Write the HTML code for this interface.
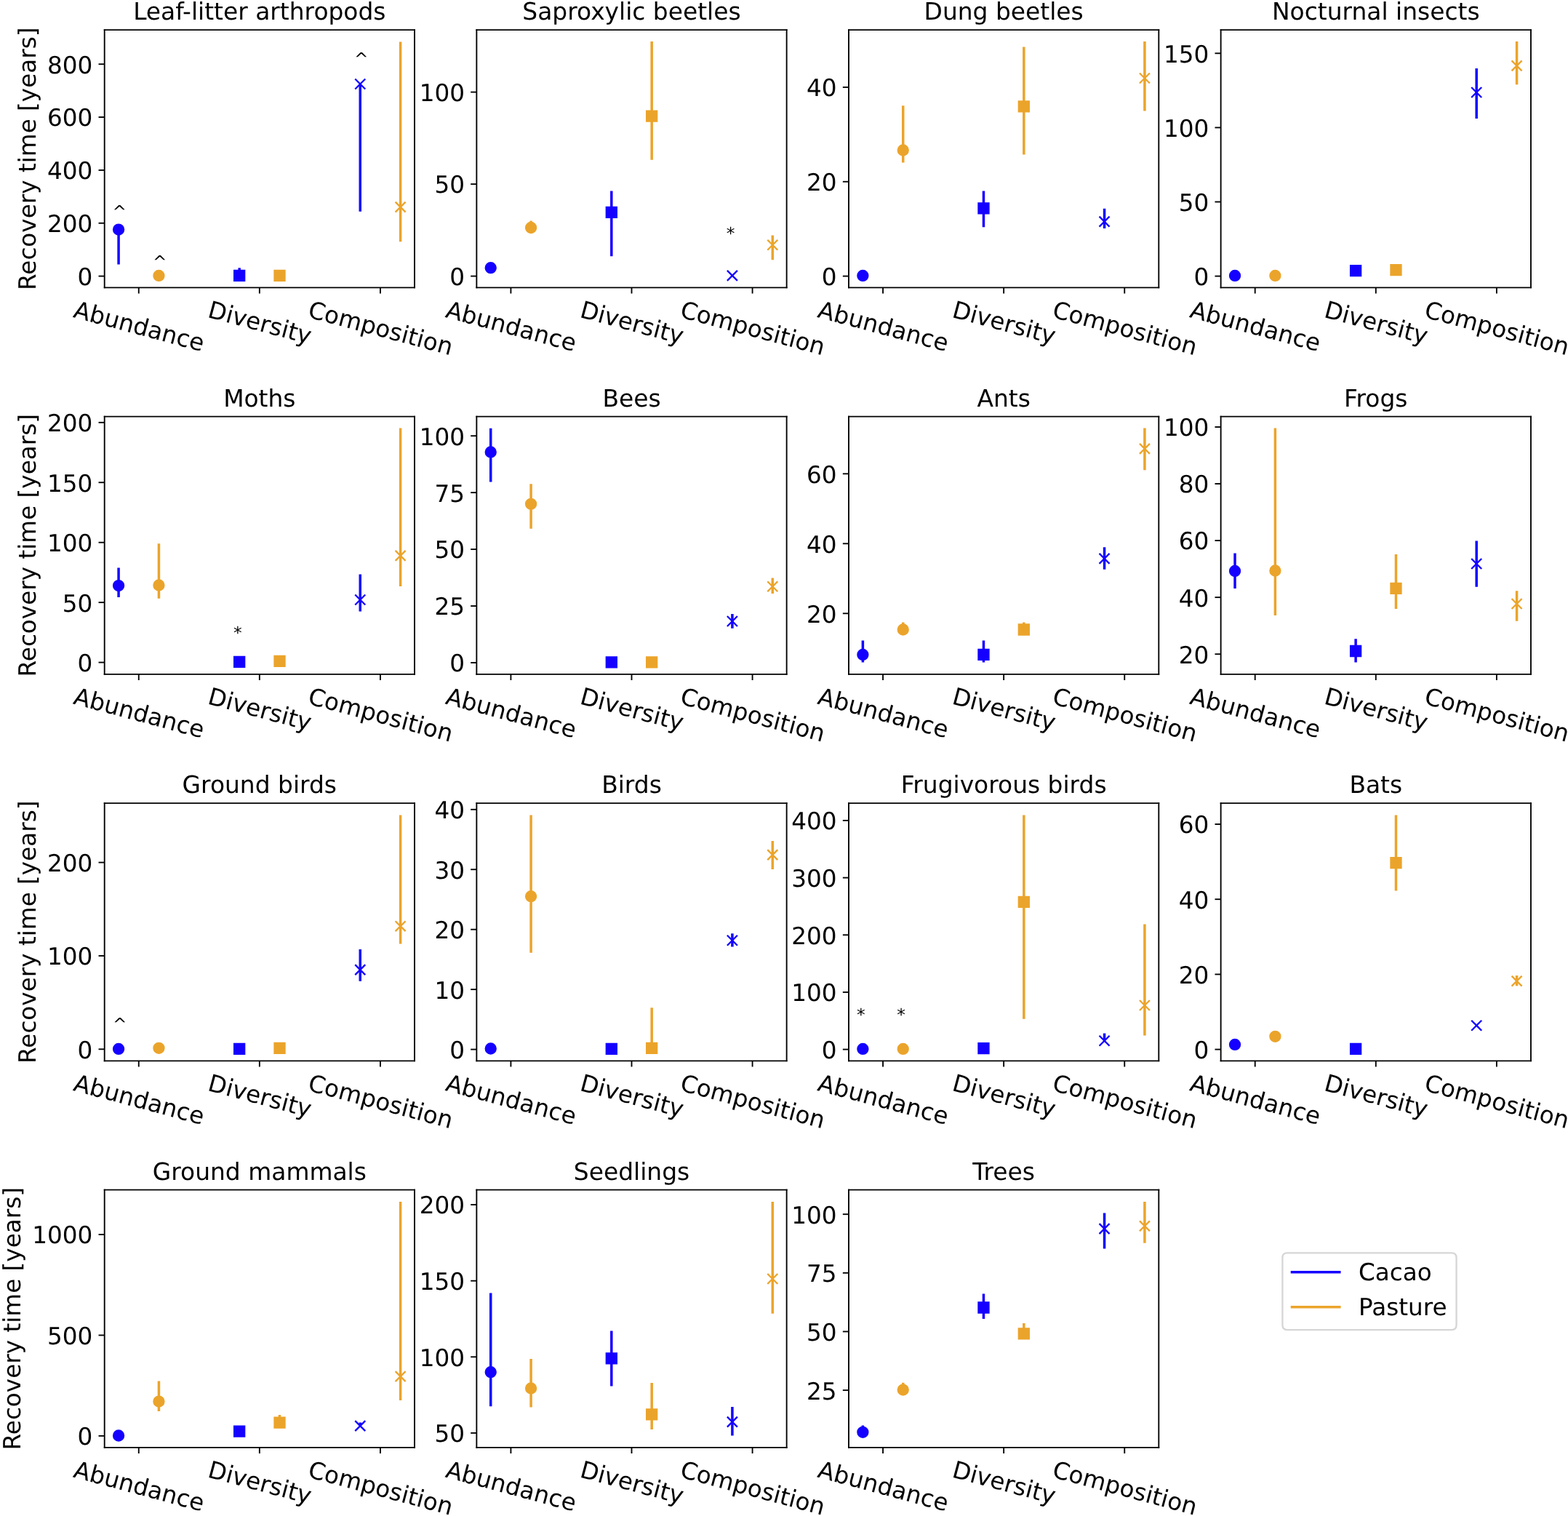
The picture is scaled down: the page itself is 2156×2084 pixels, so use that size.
<!DOCTYPE html>
<html><head><meta charset="utf-8"><style>html,body{margin:0;padding:0;background:#fff;overflow:hidden}svg{display:block;text-rendering:geometricPrecision}</style></head><body>
<svg width="2156" height="2084" viewBox="0 0 924 893.142857">
 <defs>
  <style type="text/css">*{stroke-linejoin: round; stroke-linecap: butt}</style>
 </defs>
 <g id="figure_1">
  <g id="patch_1">
   <path d="M 0 893.142857 L 924 893.142857 L 924 0 L 0 0 z
" style="fill: #ffffff"/>
  </g>
  <g id="axes_1">
   <g id="patch_2">
    <path d="M 61.585714 169.427143 L 244.285714 169.427143 L 244.285714 17.605714 L 61.585714 17.605714 z
" style="fill: #ffffff"/>
   </g>
   <g id="matplotlib.axis_1">
    <g id="xtick_1">
     <g id="line2d_1">
      <g>
       <path d="M 0 0 L 0 3.5 " transform="translate(81.753894 169.427143)" style="stroke: #000000; stroke-width: 0.8; stroke: #000000; stroke-width: 0.8"/>
      </g>
     </g>
     <g id="text_1">
      <text style="font-size: 14px; font-family: 'DejaVu Sans', 'Liberation Sans', sans-serif" transform="translate(42.666834 186.702481) rotate(-345)">Abundance</text>
     </g>
    </g>
    <g id="xtick_2">
     <g id="line2d_2">
      <g>
       <path d="M 0 0 L 0 3.5 " transform="translate(152.935714 169.427143)" style="stroke: #000000; stroke-width: 0.8; stroke: #000000; stroke-width: 0.8"/>
      </g>
     </g>
     <g id="text_2">
      <text style="font-size: 14px; font-family: 'DejaVu Sans', 'Liberation Sans', sans-serif" transform="translate(121.855726 186.702481) rotate(-345)">Diversity</text>
     </g>
    </g>
    <g id="xtick_3">
     <g id="line2d_3">
      <g>
       <path d="M 0 0 L 0 3.5 " transform="translate(224.117534 169.427143)" style="stroke: #000000; stroke-width: 0.8; stroke: #000000; stroke-width: 0.8"/>
      </g>
     </g>
     <g id="text_3">
      <text style="font-size: 14px; font-family: 'DejaVu Sans', 'Liberation Sans', sans-serif" transform="translate(180.89118 186.702481) rotate(-345)">Composition</text>
     </g>
    </g>
   </g>
   <g id="matplotlib.axis_2">
    <g id="ytick_1">
     <g id="line2d_4">
      <g>
       <path d="M 0 0 L -3.5 0 " transform="translate(61.585714 162.685714)" style="stroke: #000000; stroke-width: 0.8; stroke: #000000; stroke-width: 0.8"/>
      </g>
     </g>
     <g id="text_4">
      <text style="font-size: 14px; font-family: 'DejaVu Sans', 'Liberation Sans', sans-serif; text-anchor: end" x="54.585714" y="168.004621" transform="rotate(-0 54.585714 168.004621)">0</text>
     </g>
    </g>
    <g id="ytick_2">
     <g id="line2d_5">
      <g>
       <path d="M 0 0 L -3.5 0 " transform="translate(61.585714 131.464286)" style="stroke: #000000; stroke-width: 0.8; stroke: #000000; stroke-width: 0.8"/>
      </g>
     </g>
     <g id="text_5">
      <text style="font-size: 14px; font-family: 'DejaVu Sans', 'Liberation Sans', sans-serif; text-anchor: end" x="54.585714" y="136.783192" transform="rotate(-0 54.585714 136.783192)">200</text>
     </g>
    </g>
    <g id="ytick_3">
     <g id="line2d_6">
      <g>
       <path d="M 0 0 L -3.5 0 " transform="translate(61.585714 100.242857)" style="stroke: #000000; stroke-width: 0.8; stroke: #000000; stroke-width: 0.8"/>
      </g>
     </g>
     <g id="text_6">
      <text style="font-size: 14px; font-family: 'DejaVu Sans', 'Liberation Sans', sans-serif; text-anchor: end" x="54.585714" y="105.561763" transform="rotate(-0 54.585714 105.561763)">400</text>
     </g>
    </g>
    <g id="ytick_4">
     <g id="line2d_7">
      <g>
       <path d="M 0 0 L -3.5 0 " transform="translate(61.585714 69.021429)" style="stroke: #000000; stroke-width: 0.8; stroke: #000000; stroke-width: 0.8"/>
      </g>
     </g>
     <g id="text_7">
      <text style="font-size: 14px; font-family: 'DejaVu Sans', 'Liberation Sans', sans-serif; text-anchor: end" x="54.585714" y="74.340335" transform="rotate(-0 54.585714 74.340335)">600</text>
     </g>
    </g>
    <g id="ytick_5">
     <g id="line2d_8">
      <g>
       <path d="M 0 0 L -3.5 0 " transform="translate(61.585714 37.8)" style="stroke: #000000; stroke-width: 0.8; stroke: #000000; stroke-width: 0.8"/>
      </g>
     </g>
     <g id="text_8">
      <text style="font-size: 14px; font-family: 'DejaVu Sans', 'Liberation Sans', sans-serif; text-anchor: end" x="54.585714" y="43.118906" transform="rotate(-0 54.585714 43.118906)">800</text>
     </g>
    </g>
    <g id="text_9">
     <text style="font-size: 14px; font-family: 'DejaVu Sans', 'Liberation Sans', sans-serif; text-anchor: middle" x="20.951652" y="93.516429" transform="rotate(-90 20.951652 93.516429)">Recovery time [years]</text>
    </g>
   </g>
   <g id="LineCollection_1">
    <path d="M 69.890258 155.742857 L 69.890258 135.257143 " clip-path="url(#pb2ecd4a80b)" style="fill: none; stroke: #1500ff; stroke-width: 1.5"/>
   </g>
   <g id="LineCollection_2">
    <path d="M 93.617531 162.385714 L 93.617531 162.385714 " clip-path="url(#pb2ecd4a80b)" style="fill: none; stroke: #eba42b; stroke-width: 1.5"/>
   </g>
   <g id="LineCollection_3">
    <path d="M 141.072078 162.385714 L 141.072078 157.8 " clip-path="url(#pb2ecd4a80b)" style="fill: none; stroke: #1500ff; stroke-width: 1.5"/>
   </g>
   <g id="LineCollection_4">
    <path d="M 164.799351 162.385714 L 164.799351 162.385714 " clip-path="url(#pb2ecd4a80b)" style="fill: none; stroke: #eba42b; stroke-width: 1.5"/>
   </g>
   <g id="LineCollection_5">
    <path d="M 212.253898 124.628571 L 212.253898 49.5 " clip-path="url(#pb2ecd4a80b)" style="fill: none; stroke: #1500ff; stroke-width: 1.5"/>
   </g>
   <g id="LineCollection_6">
    <path d="M 235.981171 142.414286 L 235.981171 24.642857 " clip-path="url(#pb2ecd4a80b)" style="fill: none; stroke: #eba42b; stroke-width: 1.5"/>
   </g>
   <g id="line2d_9">
    <g clip-path="url(#pb2ecd4a80b)">
     <path d="M 0 3 C 0.795609 3 1.55874 2.683901 2.12132 2.12132 C 2.683901 1.55874 3 0.795609 3 0 C 3 -0.795609 2.683901 -1.55874 2.12132 -2.12132 C 1.55874 -2.683901 0.795609 -3 0 -3 C -0.795609 -3 -1.55874 -2.683901 -2.12132 -2.12132 C -2.683901 -1.55874 -3 -0.795609 -3 0 C -3 0.795609 -2.683901 1.55874 -2.12132 2.12132 C -1.55874 2.683901 -0.795609 3 0 3 z
" transform="translate(69.890258 135.257143)" style="fill: #1500ff; stroke: #1500ff; stroke: #1500ff"/>
    </g>
   </g>
   <g id="line2d_10">
    <g clip-path="url(#pb2ecd4a80b)">
     <path d="M 0 3 C 0.795609 3 1.55874 2.683901 2.12132 2.12132 C 2.683901 1.55874 3 0.795609 3 0 C 3 -0.795609 2.683901 -1.55874 2.12132 -2.12132 C 1.55874 -2.683901 0.795609 -3 0 -3 C -0.795609 -3 -1.55874 -2.683901 -2.12132 -2.12132 C -2.683901 -1.55874 -3 -0.795609 -3 0 C -3 0.795609 -2.683901 1.55874 -2.12132 2.12132 C -1.55874 2.683901 -0.795609 3 0 3 z
" transform="translate(93.617531 162.385714)" style="fill: #eba42b; stroke: #eba42b; stroke: #eba42b"/>
    </g>
   </g>
   <g id="line2d_11">
    <g clip-path="url(#pb2ecd4a80b)">
     <path d="M -3 3 L 3 3 L 3 -3 L -3 -3 z
" transform="translate(141.072078 162.385714)" style="fill: #1500ff; stroke: #1500ff; stroke-linejoin: miter; stroke: #1500ff; stroke-linejoin: miter"/>
    </g>
   </g>
   <g id="line2d_12">
    <g clip-path="url(#pb2ecd4a80b)">
     <path d="M -3 3 L 3 3 L 3 -3 L -3 -3 z
" transform="translate(164.799351 162.385714)" style="fill: #eba42b; stroke: #eba42b; stroke-linejoin: miter; stroke: #eba42b; stroke-linejoin: miter"/>
    </g>
   </g>
   <g id="line2d_13">
    <g clip-path="url(#pb2ecd4a80b)">
     <path d="M -3 3 L 3 -3 M -3 -3 L 3 3 " transform="translate(212.253898 49.5)" style="fill: #1500ff; stroke: #1500ff; stroke: #1500ff"/>
    </g>
   </g>
   <g id="line2d_14">
    <g clip-path="url(#pb2ecd4a80b)">
     <path d="M -3 3 L 3 -3 M -3 -3 L 3 3 " transform="translate(235.981171 121.971429)" style="fill: #eba42b; stroke: #eba42b; stroke: #eba42b"/>
    </g>
   </g>
   <g id="patch_3">
    <path d="M 61.585714 169.427143 L 61.585714 17.605714 " style="fill: none; stroke: #000000; stroke-width: 0.8; stroke-linejoin: miter; stroke-linecap: square"/>
   </g>
   <g id="patch_4">
    <path d="M 244.285714 169.427143 L 244.285714 17.605714 " style="fill: none; stroke: #000000; stroke-width: 0.8; stroke-linejoin: miter; stroke-linecap: square"/>
   </g>
   <g id="patch_5">
    <path d="M 61.585714 169.427143 L 244.285714 169.427143 " style="fill: none; stroke: #000000; stroke-width: 0.8; stroke-linejoin: miter; stroke-linecap: square"/>
   </g>
   <g id="patch_6">
    <path d="M 61.585714 17.605714 L 244.285714 17.605714 " style="fill: none; stroke: #000000; stroke-width: 0.8; stroke-linejoin: miter; stroke-linecap: square"/>
   </g>
   <g id="text_10">
    <text style="font-size: 14.1px; font-family: 'DejaVu Sans', 'Liberation Sans', sans-serif; text-anchor: middle" x="152.935714" y="11.605714" transform="rotate(-0 152.935714 11.605714)">Leaf-litter arthropods</text>
   </g>
  </g>
  <g id="axes_2">
   <g id="patch_7">
    <path d="M 280.864286 169.427143 L 463.564286 169.427143 L 463.564286 17.605714 L 280.864286 17.605714 z
" style="fill: #ffffff"/>
   </g>
   <g id="matplotlib.axis_3">
    <g id="xtick_4">
     <g id="line2d_15">
      <g>
       <path d="M 0 0 L 0 3.5 " transform="translate(301.032466 169.427143)" style="stroke: #000000; stroke-width: 0.8; stroke: #000000; stroke-width: 0.8"/>
      </g>
     </g>
     <g id="text_11">
      <text style="font-size: 14px; font-family: 'DejaVu Sans', 'Liberation Sans', sans-serif" transform="translate(261.945405 186.702481) rotate(-345)">Abundance</text>
     </g>
    </g>
    <g id="xtick_5">
     <g id="line2d_16">
      <g>
       <path d="M 0 0 L 0 3.5 " transform="translate(372.214286 169.427143)" style="stroke: #000000; stroke-width: 0.8; stroke: #000000; stroke-width: 0.8"/>
      </g>
     </g>
     <g id="text_12">
      <text style="font-size: 14px; font-family: 'DejaVu Sans', 'Liberation Sans', sans-serif" transform="translate(341.134298 186.702481) rotate(-345)">Diversity</text>
     </g>
    </g>
    <g id="xtick_6">
     <g id="line2d_17">
      <g>
       <path d="M 0 0 L 0 3.5 " transform="translate(443.396106 169.427143)" style="stroke: #000000; stroke-width: 0.8; stroke: #000000; stroke-width: 0.8"/>
      </g>
     </g>
     <g id="text_13">
      <text style="font-size: 14px; font-family: 'DejaVu Sans', 'Liberation Sans', sans-serif" transform="translate(400.169751 186.702481) rotate(-345)">Composition</text>
     </g>
    </g>
   </g>
   <g id="matplotlib.axis_4">
    <g id="ytick_6">
     <g id="line2d_18">
      <g>
       <path d="M 0 0 L -3.5 0 " transform="translate(280.864286 162.685714)" style="stroke: #000000; stroke-width: 0.8; stroke: #000000; stroke-width: 0.8"/>
      </g>
     </g>
     <g id="text_14">
      <text style="font-size: 14px; font-family: 'DejaVu Sans', 'Liberation Sans', sans-serif; text-anchor: end" x="273.864286" y="168.004621" transform="rotate(-0 273.864286 168.004621)">0</text>
     </g>
    </g>
    <g id="ytick_7">
     <g id="line2d_19">
      <g>
       <path d="M 0 0 L -3.5 0 " transform="translate(280.864286 108.471429)" style="stroke: #000000; stroke-width: 0.8; stroke: #000000; stroke-width: 0.8"/>
      </g>
     </g>
     <g id="text_15">
      <text style="font-size: 14px; font-family: 'DejaVu Sans', 'Liberation Sans', sans-serif; text-anchor: end" x="273.864286" y="113.790335" transform="rotate(-0 273.864286 113.790335)">50</text>
     </g>
    </g>
    <g id="ytick_8">
     <g id="line2d_20">
      <g>
       <path d="M 0 0 L -3.5 0 " transform="translate(280.864286 54.257143)" style="stroke: #000000; stroke-width: 0.8; stroke: #000000; stroke-width: 0.8"/>
      </g>
     </g>
     <g id="text_16">
      <text style="font-size: 14px; font-family: 'DejaVu Sans', 'Liberation Sans', sans-serif; text-anchor: end" x="273.864286" y="59.576049" transform="rotate(-0 273.864286 59.576049)">100</text>
     </g>
    </g>
   </g>
   <g id="LineCollection_7">
    <path d="M 289.168829 157.8 L 289.168829 157.8 " clip-path="url(#p478a7007c0)" style="fill: none; stroke: #1500ff; stroke-width: 1.5"/>
   </g>
   <g id="LineCollection_8">
    <path d="M 312.896102 134.142857 L 312.896102 130.028571 " clip-path="url(#p478a7007c0)" style="fill: none; stroke: #eba42b; stroke-width: 1.5"/>
   </g>
   <g id="LineCollection_9">
    <path d="M 360.350649 150.985714 L 360.350649 112.457143 " clip-path="url(#p478a7007c0)" style="fill: none; stroke: #1500ff; stroke-width: 1.5"/>
   </g>
   <g id="LineCollection_10">
    <path d="M 384.077922 94.2 L 384.077922 24.471429 " clip-path="url(#p478a7007c0)" style="fill: none; stroke: #eba42b; stroke-width: 1.5"/>
   </g>
   <g id="LineCollection_11">
    <path d="M 431.532469 162.385714 L 431.532469 162.385714 " clip-path="url(#p478a7007c0)" style="fill: none; stroke: #1500ff; stroke-width: 1.5"/>
   </g>
   <g id="LineCollection_12">
    <path d="M 455.259742 153.085714 L 455.259742 138.6 " clip-path="url(#p478a7007c0)" style="fill: none; stroke: #eba42b; stroke-width: 1.5"/>
   </g>
   <g id="line2d_21">
    <g clip-path="url(#p478a7007c0)">
     <path d="M 0 3 C 0.795609 3 1.55874 2.683901 2.12132 2.12132 C 2.683901 1.55874 3 0.795609 3 0 C 3 -0.795609 2.683901 -1.55874 2.12132 -2.12132 C 1.55874 -2.683901 0.795609 -3 0 -3 C -0.795609 -3 -1.55874 -2.683901 -2.12132 -2.12132 C -2.683901 -1.55874 -3 -0.795609 -3 0 C -3 0.795609 -2.683901 1.55874 -2.12132 2.12132 C -1.55874 2.683901 -0.795609 3 0 3 z
" transform="translate(289.168829 157.8)" style="fill: #1500ff; stroke: #1500ff; stroke: #1500ff"/>
    </g>
   </g>
   <g id="line2d_22">
    <g clip-path="url(#p478a7007c0)">
     <path d="M 0 3 C 0.795609 3 1.55874 2.683901 2.12132 2.12132 C 2.683901 1.55874 3 0.795609 3 0 C 3 -0.795609 2.683901 -1.55874 2.12132 -2.12132 C 1.55874 -2.683901 0.795609 -3 0 -3 C -0.795609 -3 -1.55874 -2.683901 -2.12132 -2.12132 C -2.683901 -1.55874 -3 -0.795609 -3 0 C -3 0.795609 -2.683901 1.55874 -2.12132 2.12132 C -1.55874 2.683901 -0.795609 3 0 3 z
" transform="translate(312.896102 134.142857)" style="fill: #eba42b; stroke: #eba42b; stroke: #eba42b"/>
    </g>
   </g>
   <g id="line2d_23">
    <g clip-path="url(#p478a7007c0)">
     <path d="M -3 3 L 3 3 L 3 -3 L -3 -3 z
" transform="translate(360.350649 125.1)" style="fill: #1500ff; stroke: #1500ff; stroke-linejoin: miter; stroke: #1500ff; stroke-linejoin: miter"/>
    </g>
   </g>
   <g id="line2d_24">
    <g clip-path="url(#p478a7007c0)">
     <path d="M -3 3 L 3 3 L 3 -3 L -3 -3 z
" transform="translate(384.077922 68.4)" style="fill: #eba42b; stroke: #eba42b; stroke-linejoin: miter; stroke: #eba42b; stroke-linejoin: miter"/>
    </g>
   </g>
   <g id="line2d_25">
    <g clip-path="url(#p478a7007c0)">
     <path d="M -3 3 L 3 -3 M -3 -3 L 3 3 " transform="translate(431.532469 162.385714)" style="fill: #1500ff; stroke: #1500ff; stroke: #1500ff"/>
    </g>
   </g>
   <g id="line2d_26">
    <g clip-path="url(#p478a7007c0)">
     <path d="M -3 3 L 3 -3 M -3 -3 L 3 3 " transform="translate(455.259742 144.3)" style="fill: #eba42b; stroke: #eba42b; stroke: #eba42b"/>
    </g>
   </g>
   <g id="patch_8">
    <path d="M 280.864286 169.427143 L 280.864286 17.605714 " style="fill: none; stroke: #000000; stroke-width: 0.8; stroke-linejoin: miter; stroke-linecap: square"/>
   </g>
   <g id="patch_9">
    <path d="M 463.564286 169.427143 L 463.564286 17.605714 " style="fill: none; stroke: #000000; stroke-width: 0.8; stroke-linejoin: miter; stroke-linecap: square"/>
   </g>
   <g id="patch_10">
    <path d="M 280.864286 169.427143 L 463.564286 169.427143 " style="fill: none; stroke: #000000; stroke-width: 0.8; stroke-linejoin: miter; stroke-linecap: square"/>
   </g>
   <g id="patch_11">
    <path d="M 280.864286 17.605714 L 463.564286 17.605714 " style="fill: none; stroke: #000000; stroke-width: 0.8; stroke-linejoin: miter; stroke-linecap: square"/>
   </g>
   <g id="text_17">
    <text style="font-size: 14.1px; font-family: 'DejaVu Sans', 'Liberation Sans', sans-serif; text-anchor: middle" x="372.214286" y="11.605714" transform="rotate(-0 372.214286 11.605714)">Saproxylic beetles</text>
   </g>
  </g>
  <g id="axes_3">
   <g id="patch_12">
    <path d="M 500.142857 169.427143 L 682.842857 169.427143 L 682.842857 17.605714 L 500.142857 17.605714 z
" style="fill: #ffffff"/>
   </g>
   <g id="matplotlib.axis_5">
    <g id="xtick_7">
     <g id="line2d_27">
      <g>
       <path d="M 0 0 L 0 3.5 " transform="translate(520.311037 169.427143)" style="stroke: #000000; stroke-width: 0.8; stroke: #000000; stroke-width: 0.8"/>
      </g>
     </g>
     <g id="text_18">
      <text style="font-size: 14px; font-family: 'DejaVu Sans', 'Liberation Sans', sans-serif" transform="translate(481.223977 186.702481) rotate(-345)">Abundance</text>
     </g>
    </g>
    <g id="xtick_8">
     <g id="line2d_28">
      <g>
       <path d="M 0 0 L 0 3.5 " transform="translate(591.492857 169.427143)" style="stroke: #000000; stroke-width: 0.8; stroke: #000000; stroke-width: 0.8"/>
      </g>
     </g>
     <g id="text_19">
      <text style="font-size: 14px; font-family: 'DejaVu Sans', 'Liberation Sans', sans-serif" transform="translate(560.412869 186.702481) rotate(-345)">Diversity</text>
     </g>
    </g>
    <g id="xtick_9">
     <g id="line2d_29">
      <g>
       <path d="M 0 0 L 0 3.5 " transform="translate(662.674677 169.427143)" style="stroke: #000000; stroke-width: 0.8; stroke: #000000; stroke-width: 0.8"/>
      </g>
     </g>
     <g id="text_20">
      <text style="font-size: 14px; font-family: 'DejaVu Sans', 'Liberation Sans', sans-serif" transform="translate(619.448323 186.702481) rotate(-345)">Composition</text>
     </g>
    </g>
   </g>
   <g id="matplotlib.axis_6">
    <g id="ytick_9">
     <g id="line2d_30">
      <g>
       <path d="M 0 0 L -3.5 0 " transform="translate(500.142857 162.685714)" style="stroke: #000000; stroke-width: 0.8; stroke: #000000; stroke-width: 0.8"/>
      </g>
     </g>
     <g id="text_21">
      <text style="font-size: 14px; font-family: 'DejaVu Sans', 'Liberation Sans', sans-serif; text-anchor: end" x="493.142857" y="168.004621" transform="rotate(-0 493.142857 168.004621)">0</text>
     </g>
    </g>
    <g id="ytick_10">
     <g id="line2d_31">
      <g>
       <path d="M 0 0 L -3.5 0 " transform="translate(500.142857 107.035714)" style="stroke: #000000; stroke-width: 0.8; stroke: #000000; stroke-width: 0.8"/>
      </g>
     </g>
     <g id="text_22">
      <text style="font-size: 14px; font-family: 'DejaVu Sans', 'Liberation Sans', sans-serif; text-anchor: end" x="493.142857" y="112.354621" transform="rotate(-0 493.142857 112.354621)">20</text>
     </g>
    </g>
    <g id="ytick_11">
     <g id="line2d_32">
      <g>
       <path d="M 0 0 L -3.5 0 " transform="translate(500.142857 51.385714)" style="stroke: #000000; stroke-width: 0.8; stroke: #000000; stroke-width: 0.8"/>
      </g>
     </g>
     <g id="text_23">
      <text style="font-size: 14px; font-family: 'DejaVu Sans', 'Liberation Sans', sans-serif; text-anchor: end" x="493.142857" y="56.704621" transform="rotate(-0 493.142857 56.704621)">40</text>
     </g>
    </g>
   </g>
   <g id="LineCollection_13">
    <path d="M 508.4474 162.385714 L 508.4474 162.385714 " clip-path="url(#p5261896956)" style="fill: none; stroke: #1500ff; stroke-width: 1.5"/>
   </g>
   <g id="LineCollection_14">
    <path d="M 532.174674 95.785714 L 532.174674 62.228571 " clip-path="url(#p5261896956)" style="fill: none; stroke: #eba42b; stroke-width: 1.5"/>
   </g>
   <g id="LineCollection_15">
    <path d="M 579.62922 133.842857 L 579.62922 112.457143 " clip-path="url(#p5261896956)" style="fill: none; stroke: #1500ff; stroke-width: 1.5"/>
   </g>
   <g id="LineCollection_16">
    <path d="M 603.356494 91.028571 L 603.356494 27.6 " clip-path="url(#p5261896956)" style="fill: none; stroke: #eba42b; stroke-width: 1.5"/>
   </g>
   <g id="LineCollection_17">
    <path d="M 650.811041 134.528571 L 650.811041 122.914286 " clip-path="url(#p5261896956)" style="fill: none; stroke: #1500ff; stroke-width: 1.5"/>
   </g>
   <g id="LineCollection_18">
    <path d="M 674.538314 65.357143 L 674.538314 24.471429 " clip-path="url(#p5261896956)" style="fill: none; stroke: #eba42b; stroke-width: 1.5"/>
   </g>
   <g id="line2d_33">
    <g clip-path="url(#p5261896956)">
     <path d="M 0 3 C 0.795609 3 1.55874 2.683901 2.12132 2.12132 C 2.683901 1.55874 3 0.795609 3 0 C 3 -0.795609 2.683901 -1.55874 2.12132 -2.12132 C 1.55874 -2.683901 0.795609 -3 0 -3 C -0.795609 -3 -1.55874 -2.683901 -2.12132 -2.12132 C -2.683901 -1.55874 -3 -0.795609 -3 0 C -3 0.795609 -2.683901 1.55874 -2.12132 2.12132 C -1.55874 2.683901 -0.795609 3 0 3 z
" transform="translate(508.4474 162.385714)" style="fill: #1500ff; stroke: #1500ff; stroke: #1500ff"/>
    </g>
   </g>
   <g id="line2d_34">
    <g clip-path="url(#p5261896956)">
     <path d="M 0 3 C 0.795609 3 1.55874 2.683901 2.12132 2.12132 C 2.683901 1.55874 3 0.795609 3 0 C 3 -0.795609 2.683901 -1.55874 2.12132 -2.12132 C 1.55874 -2.683901 0.795609 -3 0 -3 C -0.795609 -3 -1.55874 -2.683901 -2.12132 -2.12132 C -2.683901 -1.55874 -3 -0.795609 -3 0 C -3 0.795609 -2.683901 1.55874 -2.12132 2.12132 C -1.55874 2.683901 -0.795609 3 0 3 z
" transform="translate(532.174674 88.5)" style="fill: #eba42b; stroke: #eba42b; stroke: #eba42b"/>
    </g>
   </g>
   <g id="line2d_35">
    <g clip-path="url(#p5261896956)">
     <path d="M -3 3 L 3 3 L 3 -3 L -3 -3 z
" transform="translate(579.62922 122.742857)" style="fill: #1500ff; stroke: #1500ff; stroke-linejoin: miter; stroke: #1500ff; stroke-linejoin: miter"/>
    </g>
   </g>
   <g id="line2d_36">
    <g clip-path="url(#p5261896956)">
     <path d="M -3 3 L 3 3 L 3 -3 L -3 -3 z
" transform="translate(603.356494 62.7)" style="fill: #eba42b; stroke: #eba42b; stroke-linejoin: miter; stroke: #eba42b; stroke-linejoin: miter"/>
    </g>
   </g>
   <g id="line2d_37">
    <g clip-path="url(#p5261896956)">
     <path d="M -3 3 L 3 -3 M -3 -3 L 3 3 " transform="translate(650.811041 130.542857)" style="fill: #1500ff; stroke: #1500ff; stroke: #1500ff"/>
    </g>
   </g>
   <g id="line2d_38">
    <g clip-path="url(#p5261896956)">
     <path d="M -3 3 L 3 -3 M -3 -3 L 3 3 " transform="translate(674.538314 46.071429)" style="fill: #eba42b; stroke: #eba42b; stroke: #eba42b"/>
    </g>
   </g>
   <g id="patch_13">
    <path d="M 500.142857 169.427143 L 500.142857 17.605714 " style="fill: none; stroke: #000000; stroke-width: 0.8; stroke-linejoin: miter; stroke-linecap: square"/>
   </g>
   <g id="patch_14">
    <path d="M 682.842857 169.427143 L 682.842857 17.605714 " style="fill: none; stroke: #000000; stroke-width: 0.8; stroke-linejoin: miter; stroke-linecap: square"/>
   </g>
   <g id="patch_15">
    <path d="M 500.142857 169.427143 L 682.842857 169.427143 " style="fill: none; stroke: #000000; stroke-width: 0.8; stroke-linejoin: miter; stroke-linecap: square"/>
   </g>
   <g id="patch_16">
    <path d="M 500.142857 17.605714 L 682.842857 17.605714 " style="fill: none; stroke: #000000; stroke-width: 0.8; stroke-linejoin: miter; stroke-linecap: square"/>
   </g>
   <g id="text_24">
    <text style="font-size: 14.1px; font-family: 'DejaVu Sans', 'Liberation Sans', sans-serif; text-anchor: middle" x="591.492857" y="11.605714" transform="rotate(-0 591.492857 11.605714)">Dung beetles</text>
   </g>
  </g>
  <g id="axes_4">
   <g id="patch_17">
    <path d="M 719.421429 169.427143 L 902.121429 169.427143 L 902.121429 17.605714 L 719.421429 17.605714 z
" style="fill: #ffffff"/>
   </g>
   <g id="matplotlib.axis_7">
    <g id="xtick_10">
     <g id="line2d_39">
      <g>
       <path d="M 0 0 L 0 3.5 " transform="translate(739.589609 169.427143)" style="stroke: #000000; stroke-width: 0.8; stroke: #000000; stroke-width: 0.8"/>
      </g>
     </g>
     <g id="text_25">
      <text style="font-size: 14px; font-family: 'DejaVu Sans', 'Liberation Sans', sans-serif" transform="translate(700.502548 186.702481) rotate(-345)">Abundance</text>
     </g>
    </g>
    <g id="xtick_11">
     <g id="line2d_40">
      <g>
       <path d="M 0 0 L 0 3.5 " transform="translate(810.771429 169.427143)" style="stroke: #000000; stroke-width: 0.8; stroke: #000000; stroke-width: 0.8"/>
      </g>
     </g>
     <g id="text_26">
      <text style="font-size: 14px; font-family: 'DejaVu Sans', 'Liberation Sans', sans-serif" transform="translate(779.691441 186.702481) rotate(-345)">Diversity</text>
     </g>
    </g>
    <g id="xtick_12">
     <g id="line2d_41">
      <g>
       <path d="M 0 0 L 0 3.5 " transform="translate(881.953249 169.427143)" style="stroke: #000000; stroke-width: 0.8; stroke: #000000; stroke-width: 0.8"/>
      </g>
     </g>
     <g id="text_27">
      <text style="font-size: 14px; font-family: 'DejaVu Sans', 'Liberation Sans', sans-serif" transform="translate(838.726894 186.702481) rotate(-345)">Composition</text>
     </g>
    </g>
   </g>
   <g id="matplotlib.axis_8">
    <g id="ytick_12">
     <g id="line2d_42">
      <g>
       <path d="M 0 0 L -3.5 0 " transform="translate(719.421429 162.685714)" style="stroke: #000000; stroke-width: 0.8; stroke: #000000; stroke-width: 0.8"/>
      </g>
     </g>
     <g id="text_28">
      <text style="font-size: 14px; font-family: 'DejaVu Sans', 'Liberation Sans', sans-serif; text-anchor: end" x="712.421429" y="168.004621" transform="rotate(-0 712.421429 168.004621)">0</text>
     </g>
    </g>
    <g id="ytick_13">
     <g id="line2d_43">
      <g>
       <path d="M 0 0 L -3.5 0 " transform="translate(719.421429 118.928571)" style="stroke: #000000; stroke-width: 0.8; stroke: #000000; stroke-width: 0.8"/>
      </g>
     </g>
     <g id="text_29">
      <text style="font-size: 14px; font-family: 'DejaVu Sans', 'Liberation Sans', sans-serif; text-anchor: end" x="712.421429" y="124.247478" transform="rotate(-0 712.421429 124.247478)">50</text>
     </g>
    </g>
    <g id="ytick_14">
     <g id="line2d_44">
      <g>
       <path d="M 0 0 L -3.5 0 " transform="translate(719.421429 75.171429)" style="stroke: #000000; stroke-width: 0.8; stroke: #000000; stroke-width: 0.8"/>
      </g>
     </g>
     <g id="text_30">
      <text style="font-size: 14px; font-family: 'DejaVu Sans', 'Liberation Sans', sans-serif; text-anchor: end" x="712.421429" y="80.490335" transform="rotate(-0 712.421429 80.490335)">100</text>
     </g>
    </g>
    <g id="ytick_15">
     <g id="line2d_45">
      <g>
       <path d="M 0 0 L -3.5 0 " transform="translate(719.421429 31.414286)" style="stroke: #000000; stroke-width: 0.8; stroke: #000000; stroke-width: 0.8"/>
      </g>
     </g>
     <g id="text_31">
      <text style="font-size: 14px; font-family: 'DejaVu Sans', 'Liberation Sans', sans-serif; text-anchor: end" x="712.421429" y="36.733192" transform="rotate(-0 712.421429 36.733192)">150</text>
     </g>
    </g>
   </g>
   <g id="LineCollection_19">
    <path d="M 727.725972 162.385714 L 727.725972 162.385714 " clip-path="url(#pe8e57e15fb)" style="fill: none; stroke: #1500ff; stroke-width: 1.5"/>
   </g>
   <g id="LineCollection_20">
    <path d="M 751.453245 162.385714 L 751.453245 162.385714 " clip-path="url(#pe8e57e15fb)" style="fill: none; stroke: #eba42b; stroke-width: 1.5"/>
   </g>
   <g id="LineCollection_21">
    <path d="M 798.907792 159.514286 L 798.907792 159.514286 " clip-path="url(#pe8e57e15fb)" style="fill: none; stroke: #1500ff; stroke-width: 1.5"/>
   </g>
   <g id="LineCollection_22">
    <path d="M 822.635065 159.042857 L 822.635065 159.042857 " clip-path="url(#pe8e57e15fb)" style="fill: none; stroke: #eba42b; stroke-width: 1.5"/>
   </g>
   <g id="LineCollection_23">
    <path d="M 870.089612 69.857143 L 870.089612 40.328571 " clip-path="url(#pe8e57e15fb)" style="fill: none; stroke: #1500ff; stroke-width: 1.5"/>
   </g>
   <g id="LineCollection_24">
    <path d="M 893.816885 49.842857 L 893.816885 24.471429 " clip-path="url(#pe8e57e15fb)" style="fill: none; stroke: #eba42b; stroke-width: 1.5"/>
   </g>
   <g id="line2d_46">
    <g clip-path="url(#pe8e57e15fb)">
     <path d="M 0 3 C 0.795609 3 1.55874 2.683901 2.12132 2.12132 C 2.683901 1.55874 3 0.795609 3 0 C 3 -0.795609 2.683901 -1.55874 2.12132 -2.12132 C 1.55874 -2.683901 0.795609 -3 0 -3 C -0.795609 -3 -1.55874 -2.683901 -2.12132 -2.12132 C -2.683901 -1.55874 -3 -0.795609 -3 0 C -3 0.795609 -2.683901 1.55874 -2.12132 2.12132 C -1.55874 2.683901 -0.795609 3 0 3 z
" transform="translate(727.725972 162.385714)" style="fill: #1500ff; stroke: #1500ff; stroke: #1500ff"/>
    </g>
   </g>
   <g id="line2d_47">
    <g clip-path="url(#pe8e57e15fb)">
     <path d="M 0 3 C 0.795609 3 1.55874 2.683901 2.12132 2.12132 C 2.683901 1.55874 3 0.795609 3 0 C 3 -0.795609 2.683901 -1.55874 2.12132 -2.12132 C 1.55874 -2.683901 0.795609 -3 0 -3 C -0.795609 -3 -1.55874 -2.683901 -2.12132 -2.12132 C -2.683901 -1.55874 -3 -0.795609 -3 0 C -3 0.795609 -2.683901 1.55874 -2.12132 2.12132 C -1.55874 2.683901 -0.795609 3 0 3 z
" transform="translate(751.453245 162.385714)" style="fill: #eba42b; stroke: #eba42b; stroke: #eba42b"/>
    </g>
   </g>
   <g id="line2d_48">
    <g clip-path="url(#pe8e57e15fb)">
     <path d="M -3 3 L 3 3 L 3 -3 L -3 -3 z
" transform="translate(798.907792 159.514286)" style="fill: #1500ff; stroke: #1500ff; stroke-linejoin: miter; stroke: #1500ff; stroke-linejoin: miter"/>
    </g>
   </g>
   <g id="line2d_49">
    <g clip-path="url(#pe8e57e15fb)">
     <path d="M -3 3 L 3 3 L 3 -3 L -3 -3 z
" transform="translate(822.635065 159.042857)" style="fill: #eba42b; stroke: #eba42b; stroke-linejoin: miter; stroke: #eba42b; stroke-linejoin: miter"/>
    </g>
   </g>
   <g id="line2d_50">
    <g clip-path="url(#pe8e57e15fb)">
     <path d="M -3 3 L 3 -3 M -3 -3 L 3 3 " transform="translate(870.089612 54.428571)" style="fill: #1500ff; stroke: #1500ff; stroke: #1500ff"/>
    </g>
   </g>
   <g id="line2d_51">
    <g clip-path="url(#pe8e57e15fb)">
     <path d="M -3 3 L 3 -3 M -3 -3 L 3 3 " transform="translate(893.816885 38.742857)" style="fill: #eba42b; stroke: #eba42b; stroke: #eba42b"/>
    </g>
   </g>
   <g id="patch_18">
    <path d="M 719.421429 169.427143 L 719.421429 17.605714 " style="fill: none; stroke: #000000; stroke-width: 0.8; stroke-linejoin: miter; stroke-linecap: square"/>
   </g>
   <g id="patch_19">
    <path d="M 902.121429 169.427143 L 902.121429 17.605714 " style="fill: none; stroke: #000000; stroke-width: 0.8; stroke-linejoin: miter; stroke-linecap: square"/>
   </g>
   <g id="patch_20">
    <path d="M 719.421429 169.427143 L 902.121429 169.427143 " style="fill: none; stroke: #000000; stroke-width: 0.8; stroke-linejoin: miter; stroke-linecap: square"/>
   </g>
   <g id="patch_21">
    <path d="M 719.421429 17.605714 L 902.121429 17.605714 " style="fill: none; stroke: #000000; stroke-width: 0.8; stroke-linejoin: miter; stroke-linecap: square"/>
   </g>
   <g id="text_32">
    <text style="font-size: 14.1px; font-family: 'DejaVu Sans', 'Liberation Sans', sans-serif; text-anchor: middle" x="810.771429" y="11.605714" transform="rotate(-0 810.771429 11.605714)">Nocturnal insects</text>
   </g>
  </g>
  <g id="axes_5">
   <g id="patch_22">
    <path d="M 61.585714 397.212857 L 244.285714 397.212857 L 244.285714 245.391429 L 61.585714 245.391429 z
" style="fill: #ffffff"/>
   </g>
   <g id="matplotlib.axis_9">
    <g id="xtick_13">
     <g id="line2d_52">
      <g>
       <path d="M 0 0 L 0 3.5 " transform="translate(81.753894 397.212857)" style="stroke: #000000; stroke-width: 0.8; stroke: #000000; stroke-width: 0.8"/>
      </g>
     </g>
     <g id="text_33">
      <text style="font-size: 14px; font-family: 'DejaVu Sans', 'Liberation Sans', sans-serif" transform="translate(42.666834 414.488195) rotate(-345)">Abundance</text>
     </g>
    </g>
    <g id="xtick_14">
     <g id="line2d_53">
      <g>
       <path d="M 0 0 L 0 3.5 " transform="translate(152.935714 397.212857)" style="stroke: #000000; stroke-width: 0.8; stroke: #000000; stroke-width: 0.8"/>
      </g>
     </g>
     <g id="text_34">
      <text style="font-size: 14px; font-family: 'DejaVu Sans', 'Liberation Sans', sans-serif" transform="translate(121.855726 414.488195) rotate(-345)">Diversity</text>
     </g>
    </g>
    <g id="xtick_15">
     <g id="line2d_54">
      <g>
       <path d="M 0 0 L 0 3.5 " transform="translate(224.117534 397.212857)" style="stroke: #000000; stroke-width: 0.8; stroke: #000000; stroke-width: 0.8"/>
      </g>
     </g>
     <g id="text_35">
      <text style="font-size: 14px; font-family: 'DejaVu Sans', 'Liberation Sans', sans-serif" transform="translate(180.89118 414.488195) rotate(-345)">Composition</text>
     </g>
    </g>
   </g>
   <g id="matplotlib.axis_10">
    <g id="ytick_16">
     <g id="line2d_55">
      <g>
       <path d="M 0 0 L -3.5 0 " transform="translate(61.585714 390.257143)" style="stroke: #000000; stroke-width: 0.8; stroke: #000000; stroke-width: 0.8"/>
      </g>
     </g>
     <g id="text_36">
      <text style="font-size: 14px; font-family: 'DejaVu Sans', 'Liberation Sans', sans-serif; text-anchor: end" x="54.585714" y="395.576049" transform="rotate(-0 54.585714 395.576049)">0</text>
     </g>
    </g>
    <g id="ytick_17">
     <g id="line2d_56">
      <g>
       <path d="M 0 0 L -3.5 0 " transform="translate(61.585714 354.921429)" style="stroke: #000000; stroke-width: 0.8; stroke: #000000; stroke-width: 0.8"/>
      </g>
     </g>
     <g id="text_37">
      <text style="font-size: 14px; font-family: 'DejaVu Sans', 'Liberation Sans', sans-serif; text-anchor: end" x="54.585714" y="360.240335" transform="rotate(-0 54.585714 360.240335)">50</text>
     </g>
    </g>
    <g id="ytick_18">
     <g id="line2d_57">
      <g>
       <path d="M 0 0 L -3.5 0 " transform="translate(61.585714 319.585714)" style="stroke: #000000; stroke-width: 0.8; stroke: #000000; stroke-width: 0.8"/>
      </g>
     </g>
     <g id="text_38">
      <text style="font-size: 14px; font-family: 'DejaVu Sans', 'Liberation Sans', sans-serif; text-anchor: end" x="54.585714" y="324.904621" transform="rotate(-0 54.585714 324.904621)">100</text>
     </g>
    </g>
    <g id="ytick_19">
     <g id="line2d_58">
      <g>
       <path d="M 0 0 L -3.5 0 " transform="translate(61.585714 284.25)" style="stroke: #000000; stroke-width: 0.8; stroke: #000000; stroke-width: 0.8"/>
      </g>
     </g>
     <g id="text_39">
      <text style="font-size: 14px; font-family: 'DejaVu Sans', 'Liberation Sans', sans-serif; text-anchor: end" x="54.585714" y="289.568906" transform="rotate(-0 54.585714 289.568906)">150</text>
     </g>
    </g>
    <g id="ytick_20">
     <g id="line2d_59">
      <g>
       <path d="M 0 0 L -3.5 0 " transform="translate(61.585714 248.914286)" style="stroke: #000000; stroke-width: 0.8; stroke: #000000; stroke-width: 0.8"/>
      </g>
     </g>
     <g id="text_40">
      <text style="font-size: 14px; font-family: 'DejaVu Sans', 'Liberation Sans', sans-serif; text-anchor: end" x="54.585714" y="254.233192" transform="rotate(-0 54.585714 254.233192)">200</text>
     </g>
    </g>
    <g id="text_41">
     <text style="font-size: 14px; font-family: 'DejaVu Sans', 'Liberation Sans', sans-serif; text-anchor: middle" x="20.951652" y="321.302143" transform="rotate(-90 20.951652 321.302143)">Recovery time [years]</text>
    </g>
   </g>
   <g id="LineCollection_25">
    <path d="M 69.890258 351.9 L 69.890258 334.5 " clip-path="url(#pdd3e8fbfe0)" style="fill: none; stroke: #1500ff; stroke-width: 1.5"/>
   </g>
   <g id="LineCollection_26">
    <path d="M 93.617531 352.585714 L 93.617531 320.228571 " clip-path="url(#pdd3e8fbfe0)" style="fill: none; stroke: #eba42b; stroke-width: 1.5"/>
   </g>
   <g id="LineCollection_27">
    <path d="M 141.072078 389.957143 L 141.072078 389.957143 " clip-path="url(#pdd3e8fbfe0)" style="fill: none; stroke: #1500ff; stroke-width: 1.5"/>
   </g>
   <g id="LineCollection_28">
    <path d="M 164.799351 389.485714 L 164.799351 389.485714 " clip-path="url(#pdd3e8fbfe0)" style="fill: none; stroke: #eba42b; stroke-width: 1.5"/>
   </g>
   <g id="LineCollection_29">
    <path d="M 212.253898 360.171429 L 212.253898 338.4 " clip-path="url(#pdd3e8fbfe0)" style="fill: none; stroke: #1500ff; stroke-width: 1.5"/>
   </g>
   <g id="LineCollection_30">
    <path d="M 235.981171 345.428571 L 235.981171 252.214286 " clip-path="url(#pdd3e8fbfe0)" style="fill: none; stroke: #eba42b; stroke-width: 1.5"/>
   </g>
   <g id="line2d_60">
    <g clip-path="url(#pdd3e8fbfe0)">
     <path d="M 0 3 C 0.795609 3 1.55874 2.683901 2.12132 2.12132 C 2.683901 1.55874 3 0.795609 3 0 C 3 -0.795609 2.683901 -1.55874 2.12132 -2.12132 C 1.55874 -2.683901 0.795609 -3 0 -3 C -0.795609 -3 -1.55874 -2.683901 -2.12132 -2.12132 C -2.683901 -1.55874 -3 -0.795609 -3 0 C -3 0.795609 -2.683901 1.55874 -2.12132 2.12132 C -1.55874 2.683901 -0.795609 3 0 3 z
" transform="translate(69.890258 345.042857)" style="fill: #1500ff; stroke: #1500ff; stroke: #1500ff"/>
    </g>
   </g>
   <g id="line2d_61">
    <g clip-path="url(#pdd3e8fbfe0)">
     <path d="M 0 3 C 0.795609 3 1.55874 2.683901 2.12132 2.12132 C 2.683901 1.55874 3 0.795609 3 0 C 3 -0.795609 2.683901 -1.55874 2.12132 -2.12132 C 1.55874 -2.683901 0.795609 -3 0 -3 C -0.795609 -3 -1.55874 -2.683901 -2.12132 -2.12132 C -2.683901 -1.55874 -3 -0.795609 -3 0 C -3 0.795609 -2.683901 1.55874 -2.12132 2.12132 C -1.55874 2.683901 -0.795609 3 0 3 z
" transform="translate(93.617531 344.785714)" style="fill: #eba42b; stroke: #eba42b; stroke: #eba42b"/>
    </g>
   </g>
   <g id="line2d_62">
    <g clip-path="url(#pdd3e8fbfe0)">
     <path d="M -3 3 L 3 3 L 3 -3 L -3 -3 z
" transform="translate(141.072078 389.957143)" style="fill: #1500ff; stroke: #1500ff; stroke-linejoin: miter; stroke: #1500ff; stroke-linejoin: miter"/>
    </g>
   </g>
   <g id="line2d_63">
    <g clip-path="url(#pdd3e8fbfe0)">
     <path d="M -3 3 L 3 3 L 3 -3 L -3 -3 z
" transform="translate(164.799351 389.485714)" style="fill: #eba42b; stroke: #eba42b; stroke-linejoin: miter; stroke: #eba42b; stroke-linejoin: miter"/>
    </g>
   </g>
   <g id="line2d_64">
    <g clip-path="url(#pdd3e8fbfe0)">
     <path d="M -3 3 L 3 -3 M -3 -3 L 3 3 " transform="translate(212.253898 353.357143)" style="fill: #1500ff; stroke: #1500ff; stroke: #1500ff"/>
    </g>
   </g>
   <g id="line2d_65">
    <g clip-path="url(#pdd3e8fbfe0)">
     <path d="M -3 3 L 3 -3 M -3 -3 L 3 3 " transform="translate(235.981171 327.385714)" style="fill: #eba42b; stroke: #eba42b; stroke: #eba42b"/>
    </g>
   </g>
   <g id="patch_23">
    <path d="M 61.585714 397.212857 L 61.585714 245.391429 " style="fill: none; stroke: #000000; stroke-width: 0.8; stroke-linejoin: miter; stroke-linecap: square"/>
   </g>
   <g id="patch_24">
    <path d="M 244.285714 397.212857 L 244.285714 245.391429 " style="fill: none; stroke: #000000; stroke-width: 0.8; stroke-linejoin: miter; stroke-linecap: square"/>
   </g>
   <g id="patch_25">
    <path d="M 61.585714 397.212857 L 244.285714 397.212857 " style="fill: none; stroke: #000000; stroke-width: 0.8; stroke-linejoin: miter; stroke-linecap: square"/>
   </g>
   <g id="patch_26">
    <path d="M 61.585714 245.391429 L 244.285714 245.391429 " style="fill: none; stroke: #000000; stroke-width: 0.8; stroke-linejoin: miter; stroke-linecap: square"/>
   </g>
   <g id="text_42">
    <text style="font-size: 14.1px; font-family: 'DejaVu Sans', 'Liberation Sans', sans-serif; text-anchor: middle" x="152.935714" y="239.391429" transform="rotate(-0 152.935714 239.391429)">Moths</text>
   </g>
  </g>
  <g id="axes_6">
   <g id="patch_27">
    <path d="M 280.864286 397.212857 L 463.564286 397.212857 L 463.564286 245.391429 L 280.864286 245.391429 z
" style="fill: #ffffff"/>
   </g>
   <g id="matplotlib.axis_11">
    <g id="xtick_16">
     <g id="line2d_66">
      <g>
       <path d="M 0 0 L 0 3.5 " transform="translate(301.032466 397.212857)" style="stroke: #000000; stroke-width: 0.8; stroke: #000000; stroke-width: 0.8"/>
      </g>
     </g>
     <g id="text_43">
      <text style="font-size: 14px; font-family: 'DejaVu Sans', 'Liberation Sans', sans-serif" transform="translate(261.945405 414.488195) rotate(-345)">Abundance</text>
     </g>
    </g>
    <g id="xtick_17">
     <g id="line2d_67">
      <g>
       <path d="M 0 0 L 0 3.5 " transform="translate(372.214286 397.212857)" style="stroke: #000000; stroke-width: 0.8; stroke: #000000; stroke-width: 0.8"/>
      </g>
     </g>
     <g id="text_44">
      <text style="font-size: 14px; font-family: 'DejaVu Sans', 'Liberation Sans', sans-serif" transform="translate(341.134298 414.488195) rotate(-345)">Diversity</text>
     </g>
    </g>
    <g id="xtick_18">
     <g id="line2d_68">
      <g>
       <path d="M 0 0 L 0 3.5 " transform="translate(443.396106 397.212857)" style="stroke: #000000; stroke-width: 0.8; stroke: #000000; stroke-width: 0.8"/>
      </g>
     </g>
     <g id="text_45">
      <text style="font-size: 14px; font-family: 'DejaVu Sans', 'Liberation Sans', sans-serif" transform="translate(400.169751 414.488195) rotate(-345)">Composition</text>
     </g>
    </g>
   </g>
   <g id="matplotlib.axis_12">
    <g id="ytick_21">
     <g id="line2d_69">
      <g>
       <path d="M 0 0 L -3.5 0 " transform="translate(280.864286 390.428571)" style="stroke: #000000; stroke-width: 0.8; stroke: #000000; stroke-width: 0.8"/>
      </g>
     </g>
     <g id="text_46">
      <text style="font-size: 14px; font-family: 'DejaVu Sans', 'Liberation Sans', sans-serif; text-anchor: end" x="273.864286" y="395.747478" transform="rotate(-0 273.864286 395.747478)">0</text>
     </g>
    </g>
    <g id="ytick_22">
     <g id="line2d_70">
      <g>
       <path d="M 0 0 L -3.5 0 " transform="translate(280.864286 357.021429)" style="stroke: #000000; stroke-width: 0.8; stroke: #000000; stroke-width: 0.8"/>
      </g>
     </g>
     <g id="text_47">
      <text style="font-size: 14px; font-family: 'DejaVu Sans', 'Liberation Sans', sans-serif; text-anchor: end" x="273.864286" y="362.340335" transform="rotate(-0 273.864286 362.340335)">25</text>
     </g>
    </g>
    <g id="ytick_23">
     <g id="line2d_71">
      <g>
       <path d="M 0 0 L -3.5 0 " transform="translate(280.864286 323.614286)" style="stroke: #000000; stroke-width: 0.8; stroke: #000000; stroke-width: 0.8"/>
      </g>
     </g>
     <g id="text_48">
      <text style="font-size: 14px; font-family: 'DejaVu Sans', 'Liberation Sans', sans-serif; text-anchor: end" x="273.864286" y="328.933192" transform="rotate(-0 273.864286 328.933192)">50</text>
     </g>
    </g>
    <g id="ytick_24">
     <g id="line2d_72">
      <g>
       <path d="M 0 0 L -3.5 0 " transform="translate(280.864286 290.207143)" style="stroke: #000000; stroke-width: 0.8; stroke: #000000; stroke-width: 0.8"/>
      </g>
     </g>
     <g id="text_49">
      <text style="font-size: 14px; font-family: 'DejaVu Sans', 'Liberation Sans', sans-serif; text-anchor: end" x="273.864286" y="295.526049" transform="rotate(-0 273.864286 295.526049)">75</text>
     </g>
    </g>
    <g id="ytick_25">
     <g id="line2d_73">
      <g>
       <path d="M 0 0 L -3.5 0 " transform="translate(280.864286 256.8)" style="stroke: #000000; stroke-width: 0.8; stroke: #000000; stroke-width: 0.8"/>
      </g>
     </g>
     <g id="text_50">
      <text style="font-size: 14px; font-family: 'DejaVu Sans', 'Liberation Sans', sans-serif; text-anchor: end" x="273.864286" y="262.118906" transform="rotate(-0 273.864286 262.118906)">100</text>
     </g>
    </g>
   </g>
   <g id="LineCollection_31">
    <path d="M 289.168829 283.885714 L 289.168829 252.342857 " clip-path="url(#p5641594929)" style="fill: none; stroke: #1500ff; stroke-width: 1.5"/>
   </g>
   <g id="LineCollection_32">
    <path d="M 312.896102 311.485714 L 312.896102 285.128571 " clip-path="url(#p5641594929)" style="fill: none; stroke: #eba42b; stroke-width: 1.5"/>
   </g>
   <g id="LineCollection_33">
    <path d="M 360.350649 390.128571 L 360.350649 390.128571 " clip-path="url(#p5641594929)" style="fill: none; stroke: #1500ff; stroke-width: 1.5"/>
   </g>
   <g id="LineCollection_34">
    <path d="M 384.077922 390.128571 L 384.077922 390.128571 " clip-path="url(#p5641594929)" style="fill: none; stroke: #eba42b; stroke-width: 1.5"/>
   </g>
   <g id="LineCollection_35">
    <path d="M 431.532469 370.157143 L 431.532469 361.714286 " clip-path="url(#p5641594929)" style="fill: none; stroke: #1500ff; stroke-width: 1.5"/>
   </g>
   <g id="LineCollection_36">
    <path d="M 455.259742 349.714286 L 455.259742 340.5 " clip-path="url(#p5641594929)" style="fill: none; stroke: #eba42b; stroke-width: 1.5"/>
   </g>
   <g id="line2d_74">
    <g clip-path="url(#p5641594929)">
     <path d="M 0 3 C 0.795609 3 1.55874 2.683901 2.12132 2.12132 C 2.683901 1.55874 3 0.795609 3 0 C 3 -0.795609 2.683901 -1.55874 2.12132 -2.12132 C 1.55874 -2.683901 0.795609 -3 0 -3 C -0.795609 -3 -1.55874 -2.683901 -2.12132 -2.12132 C -2.683901 -1.55874 -3 -0.795609 -3 0 C -3 0.795609 -2.683901 1.55874 -2.12132 2.12132 C -1.55874 2.683901 -0.795609 3 0 3 z
" transform="translate(289.168829 266.314286)" style="fill: #1500ff; stroke: #1500ff; stroke: #1500ff"/>
    </g>
   </g>
   <g id="line2d_75">
    <g clip-path="url(#p5641594929)">
     <path d="M 0 3 C 0.795609 3 1.55874 2.683901 2.12132 2.12132 C 2.683901 1.55874 3 0.795609 3 0 C 3 -0.795609 2.683901 -1.55874 2.12132 -2.12132 C 1.55874 -2.683901 0.795609 -3 0 -3 C -0.795609 -3 -1.55874 -2.683901 -2.12132 -2.12132 C -2.683901 -1.55874 -3 -0.795609 -3 0 C -3 0.795609 -2.683901 1.55874 -2.12132 2.12132 C -1.55874 2.683901 -0.795609 3 0 3 z
" transform="translate(312.896102 296.914286)" style="fill: #eba42b; stroke: #eba42b; stroke: #eba42b"/>
    </g>
   </g>
   <g id="line2d_76">
    <g clip-path="url(#p5641594929)">
     <path d="M -3 3 L 3 3 L 3 -3 L -3 -3 z
" transform="translate(360.350649 390.128571)" style="fill: #1500ff; stroke: #1500ff; stroke-linejoin: miter; stroke: #1500ff; stroke-linejoin: miter"/>
    </g>
   </g>
   <g id="line2d_77">
    <g clip-path="url(#p5641594929)">
     <path d="M -3 3 L 3 3 L 3 -3 L -3 -3 z
" transform="translate(384.077922 390.128571)" style="fill: #eba42b; stroke: #eba42b; stroke-linejoin: miter; stroke: #eba42b; stroke-linejoin: miter"/>
    </g>
   </g>
   <g id="line2d_78">
    <g clip-path="url(#p5641594929)">
     <path d="M -3 3 L 3 -3 M -3 -3 L 3 3 " transform="translate(431.532469 366)" style="fill: #1500ff; stroke: #1500ff; stroke: #1500ff"/>
    </g>
   </g>
   <g id="line2d_79">
    <g clip-path="url(#p5641594929)">
     <path d="M -3 3 L 3 -3 M -3 -3 L 3 3 " transform="translate(455.259742 345.557143)" style="fill: #eba42b; stroke: #eba42b; stroke: #eba42b"/>
    </g>
   </g>
   <g id="patch_28">
    <path d="M 280.864286 397.212857 L 280.864286 245.391429 " style="fill: none; stroke: #000000; stroke-width: 0.8; stroke-linejoin: miter; stroke-linecap: square"/>
   </g>
   <g id="patch_29">
    <path d="M 463.564286 397.212857 L 463.564286 245.391429 " style="fill: none; stroke: #000000; stroke-width: 0.8; stroke-linejoin: miter; stroke-linecap: square"/>
   </g>
   <g id="patch_30">
    <path d="M 280.864286 397.212857 L 463.564286 397.212857 " style="fill: none; stroke: #000000; stroke-width: 0.8; stroke-linejoin: miter; stroke-linecap: square"/>
   </g>
   <g id="patch_31">
    <path d="M 280.864286 245.391429 L 463.564286 245.391429 " style="fill: none; stroke: #000000; stroke-width: 0.8; stroke-linejoin: miter; stroke-linecap: square"/>
   </g>
   <g id="text_51">
    <text style="font-size: 14.1px; font-family: 'DejaVu Sans', 'Liberation Sans', sans-serif; text-anchor: middle" x="372.214286" y="239.391429" transform="rotate(-0 372.214286 239.391429)">Bees</text>
   </g>
  </g>
  <g id="axes_7">
   <g id="patch_32">
    <path d="M 500.142857 397.212857 L 682.842857 397.212857 L 682.842857 245.391429 L 500.142857 245.391429 z
" style="fill: #ffffff"/>
   </g>
   <g id="matplotlib.axis_13">
    <g id="xtick_19">
     <g id="line2d_80">
      <g>
       <path d="M 0 0 L 0 3.5 " transform="translate(520.311037 397.212857)" style="stroke: #000000; stroke-width: 0.8; stroke: #000000; stroke-width: 0.8"/>
      </g>
     </g>
     <g id="text_52">
      <text style="font-size: 14px; font-family: 'DejaVu Sans', 'Liberation Sans', sans-serif" transform="translate(481.223977 414.488195) rotate(-345)">Abundance</text>
     </g>
    </g>
    <g id="xtick_20">
     <g id="line2d_81">
      <g>
       <path d="M 0 0 L 0 3.5 " transform="translate(591.492857 397.212857)" style="stroke: #000000; stroke-width: 0.8; stroke: #000000; stroke-width: 0.8"/>
      </g>
     </g>
     <g id="text_53">
      <text style="font-size: 14px; font-family: 'DejaVu Sans', 'Liberation Sans', sans-serif" transform="translate(560.412869 414.488195) rotate(-345)">Diversity</text>
     </g>
    </g>
    <g id="xtick_21">
     <g id="line2d_82">
      <g>
       <path d="M 0 0 L 0 3.5 " transform="translate(662.674677 397.212857)" style="stroke: #000000; stroke-width: 0.8; stroke: #000000; stroke-width: 0.8"/>
      </g>
     </g>
     <g id="text_54">
      <text style="font-size: 14px; font-family: 'DejaVu Sans', 'Liberation Sans', sans-serif" transform="translate(619.448323 414.488195) rotate(-345)">Composition</text>
     </g>
    </g>
   </g>
   <g id="matplotlib.axis_14">
    <g id="ytick_26">
     <g id="line2d_83">
      <g>
       <path d="M 0 0 L -3.5 0 " transform="translate(500.142857 361.414286)" style="stroke: #000000; stroke-width: 0.8; stroke: #000000; stroke-width: 0.8"/>
      </g>
     </g>
     <g id="text_55">
      <text style="font-size: 14px; font-family: 'DejaVu Sans', 'Liberation Sans', sans-serif; text-anchor: end" x="493.142857" y="366.733192" transform="rotate(-0 493.142857 366.733192)">20</text>
     </g>
    </g>
    <g id="ytick_27">
     <g id="line2d_84">
      <g>
       <path d="M 0 0 L -3.5 0 " transform="translate(500.142857 320.271429)" style="stroke: #000000; stroke-width: 0.8; stroke: #000000; stroke-width: 0.8"/>
      </g>
     </g>
     <g id="text_56">
      <text style="font-size: 14px; font-family: 'DejaVu Sans', 'Liberation Sans', sans-serif; text-anchor: end" x="493.142857" y="325.590335" transform="rotate(-0 493.142857 325.590335)">40</text>
     </g>
    </g>
    <g id="ytick_28">
     <g id="line2d_85">
      <g>
       <path d="M 0 0 L -3.5 0 " transform="translate(500.142857 279.128571)" style="stroke: #000000; stroke-width: 0.8; stroke: #000000; stroke-width: 0.8"/>
      </g>
     </g>
     <g id="text_57">
      <text style="font-size: 14px; font-family: 'DejaVu Sans', 'Liberation Sans', sans-serif; text-anchor: end" x="493.142857" y="284.447478" transform="rotate(-0 493.142857 284.447478)">60</text>
     </g>
    </g>
   </g>
   <g id="LineCollection_37">
    <path d="M 508.4474 390.257143 L 508.4474 377.4 " clip-path="url(#peb296dc49b)" style="fill: none; stroke: #1500ff; stroke-width: 1.5"/>
   </g>
   <g id="LineCollection_38">
    <path d="M 532.174674 370.928571 L 532.174674 366.642857 " clip-path="url(#peb296dc49b)" style="fill: none; stroke: #eba42b; stroke-width: 1.5"/>
   </g>
   <g id="LineCollection_39">
    <path d="M 579.62922 390.257143 L 579.62922 377.4 " clip-path="url(#peb296dc49b)" style="fill: none; stroke: #1500ff; stroke-width: 1.5"/>
   </g>
   <g id="LineCollection_40">
    <path d="M 603.356494 370.928571 L 603.356494 366.642857 " clip-path="url(#peb296dc49b)" style="fill: none; stroke: #eba42b; stroke-width: 1.5"/>
   </g>
   <g id="LineCollection_41">
    <path d="M 650.811041 335.442857 L 650.811041 322.414286 " clip-path="url(#peb296dc49b)" style="fill: none; stroke: #1500ff; stroke-width: 1.5"/>
   </g>
   <g id="LineCollection_42">
    <path d="M 674.538314 276.942857 L 674.538314 252.214286 " clip-path="url(#peb296dc49b)" style="fill: none; stroke: #eba42b; stroke-width: 1.5"/>
   </g>
   <g id="line2d_86">
    <g clip-path="url(#peb296dc49b)">
     <path d="M 0 3 C 0.795609 3 1.55874 2.683901 2.12132 2.12132 C 2.683901 1.55874 3 0.795609 3 0 C 3 -0.795609 2.683901 -1.55874 2.12132 -2.12132 C 1.55874 -2.683901 0.795609 -3 0 -3 C -0.795609 -3 -1.55874 -2.683901 -2.12132 -2.12132 C -2.683901 -1.55874 -3 -0.795609 -3 0 C -3 0.795609 -2.683901 1.55874 -2.12132 2.12132 C -1.55874 2.683901 -0.795609 3 0 3 z
" transform="translate(508.4474 385.671429)" style="fill: #1500ff; stroke: #1500ff; stroke: #1500ff"/>
    </g>
   </g>
   <g id="line2d_87">
    <g clip-path="url(#peb296dc49b)">
     <path d="M 0 3 C 0.795609 3 1.55874 2.683901 2.12132 2.12132 C 2.683901 1.55874 3 0.795609 3 0 C 3 -0.795609 2.683901 -1.55874 2.12132 -2.12132 C 1.55874 -2.683901 0.795609 -3 0 -3 C -0.795609 -3 -1.55874 -2.683901 -2.12132 -2.12132 C -2.683901 -1.55874 -3 -0.795609 -3 0 C -3 0.795609 -2.683901 1.55874 -2.12132 2.12132 C -1.55874 2.683901 -0.795609 3 0 3 z
" transform="translate(532.174674 370.928571)" style="fill: #eba42b; stroke: #eba42b; stroke: #eba42b"/>
    </g>
   </g>
   <g id="line2d_88">
    <g clip-path="url(#peb296dc49b)">
     <path d="M -3 3 L 3 3 L 3 -3 L -3 -3 z
" transform="translate(579.62922 385.671429)" style="fill: #1500ff; stroke: #1500ff; stroke-linejoin: miter; stroke: #1500ff; stroke-linejoin: miter"/>
    </g>
   </g>
   <g id="line2d_89">
    <g clip-path="url(#peb296dc49b)">
     <path d="M -3 3 L 3 3 L 3 -3 L -3 -3 z
" transform="translate(603.356494 370.928571)" style="fill: #eba42b; stroke: #eba42b; stroke-linejoin: miter; stroke: #eba42b; stroke-linejoin: miter"/>
    </g>
   </g>
   <g id="line2d_90">
    <g clip-path="url(#peb296dc49b)">
     <path d="M -3 3 L 3 -3 M -3 -3 L 3 3 " transform="translate(650.811041 329.1)" style="fill: #1500ff; stroke: #1500ff; stroke: #1500ff"/>
    </g>
   </g>
   <g id="line2d_91">
    <g clip-path="url(#peb296dc49b)">
     <path d="M -3 3 L 3 -3 M -3 -3 L 3 3 " transform="translate(674.538314 264.385714)" style="fill: #eba42b; stroke: #eba42b; stroke: #eba42b"/>
    </g>
   </g>
   <g id="patch_33">
    <path d="M 500.142857 397.212857 L 500.142857 245.391429 " style="fill: none; stroke: #000000; stroke-width: 0.8; stroke-linejoin: miter; stroke-linecap: square"/>
   </g>
   <g id="patch_34">
    <path d="M 682.842857 397.212857 L 682.842857 245.391429 " style="fill: none; stroke: #000000; stroke-width: 0.8; stroke-linejoin: miter; stroke-linecap: square"/>
   </g>
   <g id="patch_35">
    <path d="M 500.142857 397.212857 L 682.842857 397.212857 " style="fill: none; stroke: #000000; stroke-width: 0.8; stroke-linejoin: miter; stroke-linecap: square"/>
   </g>
   <g id="patch_36">
    <path d="M 500.142857 245.391429 L 682.842857 245.391429 " style="fill: none; stroke: #000000; stroke-width: 0.8; stroke-linejoin: miter; stroke-linecap: square"/>
   </g>
   <g id="text_58">
    <text style="font-size: 14.1px; font-family: 'DejaVu Sans', 'Liberation Sans', sans-serif; text-anchor: middle" x="591.492857" y="239.391429" transform="rotate(-0 591.492857 239.391429)">Ants</text>
   </g>
  </g>
  <g id="axes_8">
   <g id="patch_37">
    <path d="M 719.421429 397.212857 L 902.121429 397.212857 L 902.121429 245.391429 L 719.421429 245.391429 z
" style="fill: #ffffff"/>
   </g>
   <g id="matplotlib.axis_15">
    <g id="xtick_22">
     <g id="line2d_92">
      <g>
       <path d="M 0 0 L 0 3.5 " transform="translate(739.589609 397.212857)" style="stroke: #000000; stroke-width: 0.8; stroke: #000000; stroke-width: 0.8"/>
      </g>
     </g>
     <g id="text_59">
      <text style="font-size: 14px; font-family: 'DejaVu Sans', 'Liberation Sans', sans-serif" transform="translate(700.502548 414.488195) rotate(-345)">Abundance</text>
     </g>
    </g>
    <g id="xtick_23">
     <g id="line2d_93">
      <g>
       <path d="M 0 0 L 0 3.5 " transform="translate(810.771429 397.212857)" style="stroke: #000000; stroke-width: 0.8; stroke: #000000; stroke-width: 0.8"/>
      </g>
     </g>
     <g id="text_60">
      <text style="font-size: 14px; font-family: 'DejaVu Sans', 'Liberation Sans', sans-serif" transform="translate(779.691441 414.488195) rotate(-345)">Diversity</text>
     </g>
    </g>
    <g id="xtick_24">
     <g id="line2d_94">
      <g>
       <path d="M 0 0 L 0 3.5 " transform="translate(881.953249 397.212857)" style="stroke: #000000; stroke-width: 0.8; stroke: #000000; stroke-width: 0.8"/>
      </g>
     </g>
     <g id="text_61">
      <text style="font-size: 14px; font-family: 'DejaVu Sans', 'Liberation Sans', sans-serif" transform="translate(838.726894 414.488195) rotate(-345)">Composition</text>
     </g>
    </g>
   </g>
   <g id="matplotlib.axis_16">
    <g id="ytick_29">
     <g id="line2d_95">
      <g>
       <path d="M 0 0 L -3.5 0 " transform="translate(719.421429 385.371429)" style="stroke: #000000; stroke-width: 0.8; stroke: #000000; stroke-width: 0.8"/>
      </g>
     </g>
     <g id="text_62">
      <text style="font-size: 14px; font-family: 'DejaVu Sans', 'Liberation Sans', sans-serif; text-anchor: end" x="712.421429" y="390.690335" transform="rotate(-0 712.421429 390.690335)">20</text>
     </g>
    </g>
    <g id="ytick_30">
     <g id="line2d_96">
      <g>
       <path d="M 0 0 L -3.5 0 " transform="translate(719.421429 351.921429)" style="stroke: #000000; stroke-width: 0.8; stroke: #000000; stroke-width: 0.8"/>
      </g>
     </g>
     <g id="text_63">
      <text style="font-size: 14px; font-family: 'DejaVu Sans', 'Liberation Sans', sans-serif; text-anchor: end" x="712.421429" y="357.240335" transform="rotate(-0 712.421429 357.240335)">40</text>
     </g>
    </g>
    <g id="ytick_31">
     <g id="line2d_97">
      <g>
       <path d="M 0 0 L -3.5 0 " transform="translate(719.421429 318.471429)" style="stroke: #000000; stroke-width: 0.8; stroke: #000000; stroke-width: 0.8"/>
      </g>
     </g>
     <g id="text_64">
      <text style="font-size: 14px; font-family: 'DejaVu Sans', 'Liberation Sans', sans-serif; text-anchor: end" x="712.421429" y="323.790335" transform="rotate(-0 712.421429 323.790335)">60</text>
     </g>
    </g>
    <g id="ytick_32">
     <g id="line2d_98">
      <g>
       <path d="M 0 0 L -3.5 0 " transform="translate(719.421429 285.021429)" style="stroke: #000000; stroke-width: 0.8; stroke: #000000; stroke-width: 0.8"/>
      </g>
     </g>
     <g id="text_65">
      <text style="font-size: 14px; font-family: 'DejaVu Sans', 'Liberation Sans', sans-serif; text-anchor: end" x="712.421429" y="290.340335" transform="rotate(-0 712.421429 290.340335)">80</text>
     </g>
    </g>
    <g id="ytick_33">
     <g id="line2d_99">
      <g>
       <path d="M 0 0 L -3.5 0 " transform="translate(719.421429 251.571429)" style="stroke: #000000; stroke-width: 0.8; stroke: #000000; stroke-width: 0.8"/>
      </g>
     </g>
     <g id="text_66">
      <text style="font-size: 14px; font-family: 'DejaVu Sans', 'Liberation Sans', sans-serif; text-anchor: end" x="712.421429" y="256.890335" transform="rotate(-0 712.421429 256.890335)">100</text>
     </g>
    </g>
   </g>
   <g id="LineCollection_43">
    <path d="M 727.725972 346.671429 L 727.725972 325.928571 " clip-path="url(#pb71c8c6518)" style="fill: none; stroke: #1500ff; stroke-width: 1.5"/>
   </g>
   <g id="LineCollection_44">
    <path d="M 751.453245 362.571429 L 751.453245 252.214286 " clip-path="url(#pb71c8c6518)" style="fill: none; stroke: #eba42b; stroke-width: 1.5"/>
   </g>
   <g id="LineCollection_45">
    <path d="M 798.907792 390.257143 L 798.907792 376.371429 " clip-path="url(#pb71c8c6518)" style="fill: none; stroke: #1500ff; stroke-width: 1.5"/>
   </g>
   <g id="LineCollection_46">
    <path d="M 822.635065 358.757143 L 822.635065 326.528571 " clip-path="url(#pb71c8c6518)" style="fill: none; stroke: #eba42b; stroke-width: 1.5"/>
   </g>
   <g id="LineCollection_47">
    <path d="M 870.089612 345.728571 L 870.089612 318.6 " clip-path="url(#pb71c8c6518)" style="fill: none; stroke: #1500ff; stroke-width: 1.5"/>
   </g>
   <g id="LineCollection_48">
    <path d="M 893.816885 365.914286 L 893.816885 348.085714 " clip-path="url(#pb71c8c6518)" style="fill: none; stroke: #eba42b; stroke-width: 1.5"/>
   </g>
   <g id="line2d_100">
    <g clip-path="url(#pb71c8c6518)">
     <path d="M 0 3 C 0.795609 3 1.55874 2.683901 2.12132 2.12132 C 2.683901 1.55874 3 0.795609 3 0 C 3 -0.795609 2.683901 -1.55874 2.12132 -2.12132 C 1.55874 -2.683901 0.795609 -3 0 -3 C -0.795609 -3 -1.55874 -2.683901 -2.12132 -2.12132 C -2.683901 -1.55874 -3 -0.795609 -3 0 C -3 0.795609 -2.683901 1.55874 -2.12132 2.12132 C -1.55874 2.683901 -0.795609 3 0 3 z
" transform="translate(727.725972 336.385714)" style="fill: #1500ff; stroke: #1500ff; stroke: #1500ff"/>
    </g>
   </g>
   <g id="line2d_101">
    <g clip-path="url(#pb71c8c6518)">
     <path d="M 0 3 C 0.795609 3 1.55874 2.683901 2.12132 2.12132 C 2.683901 1.55874 3 0.795609 3 0 C 3 -0.795609 2.683901 -1.55874 2.12132 -2.12132 C 1.55874 -2.683901 0.795609 -3 0 -3 C -0.795609 -3 -1.55874 -2.683901 -2.12132 -2.12132 C -2.683901 -1.55874 -3 -0.795609 -3 0 C -3 0.795609 -2.683901 1.55874 -2.12132 2.12132 C -1.55874 2.683901 -0.795609 3 0 3 z
" transform="translate(751.453245 336.214286)" style="fill: #eba42b; stroke: #eba42b; stroke: #eba42b"/>
    </g>
   </g>
   <g id="line2d_102">
    <g clip-path="url(#pb71c8c6518)">
     <path d="M -3 3 L 3 3 L 3 -3 L -3 -3 z
" transform="translate(798.907792 383.571429)" style="fill: #1500ff; stroke: #1500ff; stroke-linejoin: miter; stroke: #1500ff; stroke-linejoin: miter"/>
    </g>
   </g>
   <g id="line2d_103">
    <g clip-path="url(#pb71c8c6518)">
     <path d="M -3 3 L 3 3 L 3 -3 L -3 -3 z
" transform="translate(822.635065 346.671429)" style="fill: #eba42b; stroke: #eba42b; stroke-linejoin: miter; stroke: #eba42b; stroke-linejoin: miter"/>
    </g>
   </g>
   <g id="line2d_104">
    <g clip-path="url(#pb71c8c6518)">
     <path d="M -3 3 L 3 -3 M -3 -3 L 3 3 " transform="translate(870.089612 332.142857)" style="fill: #1500ff; stroke: #1500ff; stroke: #1500ff"/>
    </g>
   </g>
   <g id="line2d_105">
    <g clip-path="url(#pb71c8c6518)">
     <path d="M -3 3 L 3 -3 M -3 -3 L 3 3 " transform="translate(893.816885 355.714286)" style="fill: #eba42b; stroke: #eba42b; stroke: #eba42b"/>
    </g>
   </g>
   <g id="patch_38">
    <path d="M 719.421429 397.212857 L 719.421429 245.391429 " style="fill: none; stroke: #000000; stroke-width: 0.8; stroke-linejoin: miter; stroke-linecap: square"/>
   </g>
   <g id="patch_39">
    <path d="M 902.121429 397.212857 L 902.121429 245.391429 " style="fill: none; stroke: #000000; stroke-width: 0.8; stroke-linejoin: miter; stroke-linecap: square"/>
   </g>
   <g id="patch_40">
    <path d="M 719.421429 397.212857 L 902.121429 397.212857 " style="fill: none; stroke: #000000; stroke-width: 0.8; stroke-linejoin: miter; stroke-linecap: square"/>
   </g>
   <g id="patch_41">
    <path d="M 719.421429 245.391429 L 902.121429 245.391429 " style="fill: none; stroke: #000000; stroke-width: 0.8; stroke-linejoin: miter; stroke-linecap: square"/>
   </g>
   <g id="text_67">
    <text style="font-size: 14.1px; font-family: 'DejaVu Sans', 'Liberation Sans', sans-serif; text-anchor: middle" x="810.771429" y="239.391429" transform="rotate(-0 810.771429 239.391429)">Frogs</text>
   </g>
  </g>
  <g id="axes_9">
   <g id="patch_42">
    <path d="M 61.585714 624.998571 L 244.285714 624.998571 L 244.285714 473.177143 L 61.585714 473.177143 z
" style="fill: #ffffff"/>
   </g>
   <g id="matplotlib.axis_17">
    <g id="xtick_25">
     <g id="line2d_106">
      <g>
       <path d="M 0 0 L 0 3.5 " transform="translate(81.753894 624.998571)" style="stroke: #000000; stroke-width: 0.8; stroke: #000000; stroke-width: 0.8"/>
      </g>
     </g>
     <g id="text_68">
      <text style="font-size: 14px; font-family: 'DejaVu Sans', 'Liberation Sans', sans-serif" transform="translate(42.666834 642.273909) rotate(-345)">Abundance</text>
     </g>
    </g>
    <g id="xtick_26">
     <g id="line2d_107">
      <g>
       <path d="M 0 0 L 0 3.5 " transform="translate(152.935714 624.998571)" style="stroke: #000000; stroke-width: 0.8; stroke: #000000; stroke-width: 0.8"/>
      </g>
     </g>
     <g id="text_69">
      <text style="font-size: 14px; font-family: 'DejaVu Sans', 'Liberation Sans', sans-serif" transform="translate(121.855726 642.273909) rotate(-345)">Diversity</text>
     </g>
    </g>
    <g id="xtick_27">
     <g id="line2d_108">
      <g>
       <path d="M 0 0 L 0 3.5 " transform="translate(224.117534 624.998571)" style="stroke: #000000; stroke-width: 0.8; stroke: #000000; stroke-width: 0.8"/>
      </g>
     </g>
     <g id="text_70">
      <text style="font-size: 14px; font-family: 'DejaVu Sans', 'Liberation Sans', sans-serif" transform="translate(180.89118 642.273909) rotate(-345)">Composition</text>
     </g>
    </g>
   </g>
   <g id="matplotlib.axis_18">
    <g id="ytick_34">
     <g id="line2d_109">
      <g>
       <path d="M 0 0 L -3.5 0 " transform="translate(61.585714 618.128571)" style="stroke: #000000; stroke-width: 0.8; stroke: #000000; stroke-width: 0.8"/>
      </g>
     </g>
     <g id="text_71">
      <text style="font-size: 14px; font-family: 'DejaVu Sans', 'Liberation Sans', sans-serif; text-anchor: end" x="54.585714" y="623.447478" transform="rotate(-0 54.585714 623.447478)">0</text>
     </g>
    </g>
    <g id="ytick_35">
     <g id="line2d_110">
      <g>
       <path d="M 0 0 L -3.5 0 " transform="translate(61.585714 563.121429)" style="stroke: #000000; stroke-width: 0.8; stroke: #000000; stroke-width: 0.8"/>
      </g>
     </g>
     <g id="text_72">
      <text style="font-size: 14px; font-family: 'DejaVu Sans', 'Liberation Sans', sans-serif; text-anchor: end" x="54.585714" y="568.440335" transform="rotate(-0 54.585714 568.440335)">100</text>
     </g>
    </g>
    <g id="ytick_36">
     <g id="line2d_111">
      <g>
       <path d="M 0 0 L -3.5 0 " transform="translate(61.585714 508.114286)" style="stroke: #000000; stroke-width: 0.8; stroke: #000000; stroke-width: 0.8"/>
      </g>
     </g>
     <g id="text_73">
      <text style="font-size: 14px; font-family: 'DejaVu Sans', 'Liberation Sans', sans-serif; text-anchor: end" x="54.585714" y="513.433192" transform="rotate(-0 54.585714 513.433192)">200</text>
     </g>
    </g>
    <g id="text_74">
     <text style="font-size: 14px; font-family: 'DejaVu Sans', 'Liberation Sans', sans-serif; text-anchor: middle" x="20.951652" y="549.087857" transform="rotate(-90 20.951652 549.087857)">Recovery time [years]</text>
    </g>
   </g>
   <g id="LineCollection_49">
    <path d="M 69.890258 617.957143 L 69.890258 617.957143 " clip-path="url(#p9dc0a485a8)" style="fill: none; stroke: #1500ff; stroke-width: 1.5"/>
   </g>
   <g id="LineCollection_50">
    <path d="M 93.617531 617.485714 L 93.617531 617.485714 " clip-path="url(#p9dc0a485a8)" style="fill: none; stroke: #eba42b; stroke-width: 1.5"/>
   </g>
   <g id="LineCollection_51">
    <path d="M 141.072078 617.957143 L 141.072078 617.957143 " clip-path="url(#p9dc0a485a8)" style="fill: none; stroke: #1500ff; stroke-width: 1.5"/>
   </g>
   <g id="LineCollection_52">
    <path d="M 164.799351 617.485714 L 164.799351 617.485714 " clip-path="url(#p9dc0a485a8)" style="fill: none; stroke: #eba42b; stroke-width: 1.5"/>
   </g>
   <g id="LineCollection_53">
    <path d="M 212.253898 578.014286 L 212.253898 559.285714 " clip-path="url(#p9dc0a485a8)" style="fill: none; stroke: #1500ff; stroke-width: 1.5"/>
   </g>
   <g id="LineCollection_54">
    <path d="M 235.981171 556.114286 L 235.981171 480.214286 " clip-path="url(#p9dc0a485a8)" style="fill: none; stroke: #eba42b; stroke-width: 1.5"/>
   </g>
   <g id="line2d_112">
    <g clip-path="url(#p9dc0a485a8)">
     <path d="M 0 3 C 0.795609 3 1.55874 2.683901 2.12132 2.12132 C 2.683901 1.55874 3 0.795609 3 0 C 3 -0.795609 2.683901 -1.55874 2.12132 -2.12132 C 1.55874 -2.683901 0.795609 -3 0 -3 C -0.795609 -3 -1.55874 -2.683901 -2.12132 -2.12132 C -2.683901 -1.55874 -3 -0.795609 -3 0 C -3 0.795609 -2.683901 1.55874 -2.12132 2.12132 C -1.55874 2.683901 -0.795609 3 0 3 z
" transform="translate(69.890258 617.957143)" style="fill: #1500ff; stroke: #1500ff; stroke: #1500ff"/>
    </g>
   </g>
   <g id="line2d_113">
    <g clip-path="url(#p9dc0a485a8)">
     <path d="M 0 3 C 0.795609 3 1.55874 2.683901 2.12132 2.12132 C 2.683901 1.55874 3 0.795609 3 0 C 3 -0.795609 2.683901 -1.55874 2.12132 -2.12132 C 1.55874 -2.683901 0.795609 -3 0 -3 C -0.795609 -3 -1.55874 -2.683901 -2.12132 -2.12132 C -2.683901 -1.55874 -3 -0.795609 -3 0 C -3 0.795609 -2.683901 1.55874 -2.12132 2.12132 C -1.55874 2.683901 -0.795609 3 0 3 z
" transform="translate(93.617531 617.485714)" style="fill: #eba42b; stroke: #eba42b; stroke: #eba42b"/>
    </g>
   </g>
   <g id="line2d_114">
    <g clip-path="url(#p9dc0a485a8)">
     <path d="M -3 3 L 3 3 L 3 -3 L -3 -3 z
" transform="translate(141.072078 617.957143)" style="fill: #1500ff; stroke: #1500ff; stroke-linejoin: miter; stroke: #1500ff; stroke-linejoin: miter"/>
    </g>
   </g>
   <g id="line2d_115">
    <g clip-path="url(#p9dc0a485a8)">
     <path d="M -3 3 L 3 3 L 3 -3 L -3 -3 z
" transform="translate(164.799351 617.485714)" style="fill: #eba42b; stroke: #eba42b; stroke-linejoin: miter; stroke: #eba42b; stroke-linejoin: miter"/>
    </g>
   </g>
   <g id="line2d_116">
    <g clip-path="url(#p9dc0a485a8)">
     <path d="M -3 3 L 3 -3 M -3 -3 L 3 3 " transform="translate(212.253898 571.328571)" style="fill: #1500ff; stroke: #1500ff; stroke: #1500ff"/>
    </g>
   </g>
   <g id="line2d_117">
    <g clip-path="url(#p9dc0a485a8)">
     <path d="M -3 3 L 3 -3 M -3 -3 L 3 3 " transform="translate(235.981171 545.657143)" style="fill: #eba42b; stroke: #eba42b; stroke: #eba42b"/>
    </g>
   </g>
   <g id="patch_43">
    <path d="M 61.585714 624.998571 L 61.585714 473.177143 " style="fill: none; stroke: #000000; stroke-width: 0.8; stroke-linejoin: miter; stroke-linecap: square"/>
   </g>
   <g id="patch_44">
    <path d="M 244.285714 624.998571 L 244.285714 473.177143 " style="fill: none; stroke: #000000; stroke-width: 0.8; stroke-linejoin: miter; stroke-linecap: square"/>
   </g>
   <g id="patch_45">
    <path d="M 61.585714 624.998571 L 244.285714 624.998571 " style="fill: none; stroke: #000000; stroke-width: 0.8; stroke-linejoin: miter; stroke-linecap: square"/>
   </g>
   <g id="patch_46">
    <path d="M 61.585714 473.177143 L 244.285714 473.177143 " style="fill: none; stroke: #000000; stroke-width: 0.8; stroke-linejoin: miter; stroke-linecap: square"/>
   </g>
   <g id="text_75">
    <text style="font-size: 14.1px; font-family: 'DejaVu Sans', 'Liberation Sans', sans-serif; text-anchor: middle" x="152.935714" y="467.177143" transform="rotate(-0 152.935714 467.177143)">Ground birds</text>
   </g>
  </g>
  <g id="axes_10">
   <g id="patch_47">
    <path d="M 280.864286 624.998571 L 463.564286 624.998571 L 463.564286 473.177143 L 280.864286 473.177143 z
" style="fill: #ffffff"/>
   </g>
   <g id="matplotlib.axis_19">
    <g id="xtick_28">
     <g id="line2d_118">
      <g>
       <path d="M 0 0 L 0 3.5 " transform="translate(301.032466 624.998571)" style="stroke: #000000; stroke-width: 0.8; stroke: #000000; stroke-width: 0.8"/>
      </g>
     </g>
     <g id="text_76">
      <text style="font-size: 14px; font-family: 'DejaVu Sans', 'Liberation Sans', sans-serif" transform="translate(261.945405 642.273909) rotate(-345)">Abundance</text>
     </g>
    </g>
    <g id="xtick_29">
     <g id="line2d_119">
      <g>
       <path d="M 0 0 L 0 3.5 " transform="translate(372.214286 624.998571)" style="stroke: #000000; stroke-width: 0.8; stroke: #000000; stroke-width: 0.8"/>
      </g>
     </g>
     <g id="text_77">
      <text style="font-size: 14px; font-family: 'DejaVu Sans', 'Liberation Sans', sans-serif" transform="translate(341.134298 642.273909) rotate(-345)">Diversity</text>
     </g>
    </g>
    <g id="xtick_30">
     <g id="line2d_120">
      <g>
       <path d="M 0 0 L 0 3.5 " transform="translate(443.396106 624.998571)" style="stroke: #000000; stroke-width: 0.8; stroke: #000000; stroke-width: 0.8"/>
      </g>
     </g>
     <g id="text_78">
      <text style="font-size: 14px; font-family: 'DejaVu Sans', 'Liberation Sans', sans-serif" transform="translate(400.169751 642.273909) rotate(-345)">Composition</text>
     </g>
    </g>
   </g>
   <g id="matplotlib.axis_20">
    <g id="ytick_37">
     <g id="line2d_121">
      <g>
       <path d="M 0 0 L -3.5 0 " transform="translate(280.864286 618.257143)" style="stroke: #000000; stroke-width: 0.8; stroke: #000000; stroke-width: 0.8"/>
      </g>
     </g>
     <g id="text_79">
      <text style="font-size: 14px; font-family: 'DejaVu Sans', 'Liberation Sans', sans-serif; text-anchor: end" x="273.864286" y="623.576049" transform="rotate(-0 273.864286 623.576049)">0</text>
     </g>
    </g>
    <g id="ytick_38">
     <g id="line2d_122">
      <g>
       <path d="M 0 0 L -3.5 0 " transform="translate(280.864286 582.921429)" style="stroke: #000000; stroke-width: 0.8; stroke: #000000; stroke-width: 0.8"/>
      </g>
     </g>
     <g id="text_80">
      <text style="font-size: 14px; font-family: 'DejaVu Sans', 'Liberation Sans', sans-serif; text-anchor: end" x="273.864286" y="588.240335" transform="rotate(-0 273.864286 588.240335)">10</text>
     </g>
    </g>
    <g id="ytick_39">
     <g id="line2d_123">
      <g>
       <path d="M 0 0 L -3.5 0 " transform="translate(280.864286 547.585714)" style="stroke: #000000; stroke-width: 0.8; stroke: #000000; stroke-width: 0.8"/>
      </g>
     </g>
     <g id="text_81">
      <text style="font-size: 14px; font-family: 'DejaVu Sans', 'Liberation Sans', sans-serif; text-anchor: end" x="273.864286" y="552.904621" transform="rotate(-0 273.864286 552.904621)">20</text>
     </g>
    </g>
    <g id="ytick_40">
     <g id="line2d_124">
      <g>
       <path d="M 0 0 L -3.5 0 " transform="translate(280.864286 512.25)" style="stroke: #000000; stroke-width: 0.8; stroke: #000000; stroke-width: 0.8"/>
      </g>
     </g>
     <g id="text_82">
      <text style="font-size: 14px; font-family: 'DejaVu Sans', 'Liberation Sans', sans-serif; text-anchor: end" x="273.864286" y="517.568906" transform="rotate(-0 273.864286 517.568906)">30</text>
     </g>
    </g>
    <g id="ytick_41">
     <g id="line2d_125">
      <g>
       <path d="M 0 0 L -3.5 0 " transform="translate(280.864286 476.914286)" style="stroke: #000000; stroke-width: 0.8; stroke: #000000; stroke-width: 0.8"/>
      </g>
     </g>
     <g id="text_83">
      <text style="font-size: 14px; font-family: 'DejaVu Sans', 'Liberation Sans', sans-serif; text-anchor: end" x="273.864286" y="482.233192" transform="rotate(-0 273.864286 482.233192)">40</text>
     </g>
    </g>
   </g>
   <g id="LineCollection_55">
    <path d="M 289.168829 617.785714 L 289.168829 617.785714 " clip-path="url(#p0b99e2cb11)" style="fill: none; stroke: #1500ff; stroke-width: 1.5"/>
   </g>
   <g id="LineCollection_56">
    <path d="M 312.896102 561.342857 L 312.896102 480.214286 " clip-path="url(#p0b99e2cb11)" style="fill: none; stroke: #eba42b; stroke-width: 1.5"/>
   </g>
   <g id="LineCollection_57">
    <path d="M 360.350649 617.957143 L 360.350649 617.957143 " clip-path="url(#p0b99e2cb11)" style="fill: none; stroke: #1500ff; stroke-width: 1.5"/>
   </g>
   <g id="LineCollection_58">
    <path d="M 384.077922 617.485714 L 384.077922 593.7 " clip-path="url(#p0b99e2cb11)" style="fill: none; stroke: #eba42b; stroke-width: 1.5"/>
   </g>
   <g id="LineCollection_59">
    <path d="M 431.532469 557.742857 L 431.532469 549.942857 " clip-path="url(#p0b99e2cb11)" style="fill: none; stroke: #1500ff; stroke-width: 1.5"/>
   </g>
   <g id="LineCollection_60">
    <path d="M 455.259742 512.1 L 455.259742 495.428571 " clip-path="url(#p0b99e2cb11)" style="fill: none; stroke: #eba42b; stroke-width: 1.5"/>
   </g>
   <g id="line2d_126">
    <g clip-path="url(#p0b99e2cb11)">
     <path d="M 0 3 C 0.795609 3 1.55874 2.683901 2.12132 2.12132 C 2.683901 1.55874 3 0.795609 3 0 C 3 -0.795609 2.683901 -1.55874 2.12132 -2.12132 C 1.55874 -2.683901 0.795609 -3 0 -3 C -0.795609 -3 -1.55874 -2.683901 -2.12132 -2.12132 C -2.683901 -1.55874 -3 -0.795609 -3 0 C -3 0.795609 -2.683901 1.55874 -2.12132 2.12132 C -1.55874 2.683901 -0.795609 3 0 3 z
" transform="translate(289.168829 617.785714)" style="fill: #1500ff; stroke: #1500ff; stroke: #1500ff"/>
    </g>
   </g>
   <g id="line2d_127">
    <g clip-path="url(#p0b99e2cb11)">
     <path d="M 0 3 C 0.795609 3 1.55874 2.683901 2.12132 2.12132 C 2.683901 1.55874 3 0.795609 3 0 C 3 -0.795609 2.683901 -1.55874 2.12132 -2.12132 C 1.55874 -2.683901 0.795609 -3 0 -3 C -0.795609 -3 -1.55874 -2.683901 -2.12132 -2.12132 C -2.683901 -1.55874 -3 -0.795609 -3 0 C -3 0.795609 -2.683901 1.55874 -2.12132 2.12132 C -1.55874 2.683901 -0.795609 3 0 3 z
" transform="translate(312.896102 528.085714)" style="fill: #eba42b; stroke: #eba42b; stroke: #eba42b"/>
    </g>
   </g>
   <g id="line2d_128">
    <g clip-path="url(#p0b99e2cb11)">
     <path d="M -3 3 L 3 3 L 3 -3 L -3 -3 z
" transform="translate(360.350649 617.957143)" style="fill: #1500ff; stroke: #1500ff; stroke-linejoin: miter; stroke: #1500ff; stroke-linejoin: miter"/>
    </g>
   </g>
   <g id="line2d_129">
    <g clip-path="url(#p0b99e2cb11)">
     <path d="M -3 3 L 3 3 L 3 -3 L -3 -3 z
" transform="translate(384.077922 617.485714)" style="fill: #eba42b; stroke: #eba42b; stroke-linejoin: miter; stroke: #eba42b; stroke-linejoin: miter"/>
    </g>
   </g>
   <g id="line2d_130">
    <g clip-path="url(#p0b99e2cb11)">
     <path d="M -3 3 L 3 -3 M -3 -3 L 3 3 " transform="translate(431.532469 554.057143)" style="fill: #1500ff; stroke: #1500ff; stroke: #1500ff"/>
    </g>
   </g>
   <g id="line2d_131">
    <g clip-path="url(#p0b99e2cb11)">
     <path d="M -3 3 L 3 -3 M -3 -3 L 3 3 " transform="translate(455.259742 503.614286)" style="fill: #eba42b; stroke: #eba42b; stroke: #eba42b"/>
    </g>
   </g>
   <g id="patch_48">
    <path d="M 280.864286 624.998571 L 280.864286 473.177143 " style="fill: none; stroke: #000000; stroke-width: 0.8; stroke-linejoin: miter; stroke-linecap: square"/>
   </g>
   <g id="patch_49">
    <path d="M 463.564286 624.998571 L 463.564286 473.177143 " style="fill: none; stroke: #000000; stroke-width: 0.8; stroke-linejoin: miter; stroke-linecap: square"/>
   </g>
   <g id="patch_50">
    <path d="M 280.864286 624.998571 L 463.564286 624.998571 " style="fill: none; stroke: #000000; stroke-width: 0.8; stroke-linejoin: miter; stroke-linecap: square"/>
   </g>
   <g id="patch_51">
    <path d="M 280.864286 473.177143 L 463.564286 473.177143 " style="fill: none; stroke: #000000; stroke-width: 0.8; stroke-linejoin: miter; stroke-linecap: square"/>
   </g>
   <g id="text_84">
    <text style="font-size: 14.1px; font-family: 'DejaVu Sans', 'Liberation Sans', sans-serif; text-anchor: middle" x="372.214286" y="467.177143" transform="rotate(-0 372.214286 467.177143)">Birds</text>
   </g>
  </g>
  <g id="axes_11">
   <g id="patch_52">
    <path d="M 500.142857 624.998571 L 682.842857 624.998571 L 682.842857 473.177143 L 500.142857 473.177143 z
" style="fill: #ffffff"/>
   </g>
   <g id="matplotlib.axis_21">
    <g id="xtick_31">
     <g id="line2d_132">
      <g>
       <path d="M 0 0 L 0 3.5 " transform="translate(520.311037 624.998571)" style="stroke: #000000; stroke-width: 0.8; stroke: #000000; stroke-width: 0.8"/>
      </g>
     </g>
     <g id="text_85">
      <text style="font-size: 14px; font-family: 'DejaVu Sans', 'Liberation Sans', sans-serif" transform="translate(481.223977 642.273909) rotate(-345)">Abundance</text>
     </g>
    </g>
    <g id="xtick_32">
     <g id="line2d_133">
      <g>
       <path d="M 0 0 L 0 3.5 " transform="translate(591.492857 624.998571)" style="stroke: #000000; stroke-width: 0.8; stroke: #000000; stroke-width: 0.8"/>
      </g>
     </g>
     <g id="text_86">
      <text style="font-size: 14px; font-family: 'DejaVu Sans', 'Liberation Sans', sans-serif" transform="translate(560.412869 642.273909) rotate(-345)">Diversity</text>
     </g>
    </g>
    <g id="xtick_33">
     <g id="line2d_134">
      <g>
       <path d="M 0 0 L 0 3.5 " transform="translate(662.674677 624.998571)" style="stroke: #000000; stroke-width: 0.8; stroke: #000000; stroke-width: 0.8"/>
      </g>
     </g>
     <g id="text_87">
      <text style="font-size: 14px; font-family: 'DejaVu Sans', 'Liberation Sans', sans-serif" transform="translate(619.448323 642.273909) rotate(-345)">Composition</text>
     </g>
    </g>
   </g>
   <g id="matplotlib.axis_22">
    <g id="ytick_42">
     <g id="line2d_135">
      <g>
       <path d="M 0 0 L -3.5 0 " transform="translate(500.142857 618.257143)" style="stroke: #000000; stroke-width: 0.8; stroke: #000000; stroke-width: 0.8"/>
      </g>
     </g>
     <g id="text_88">
      <text style="font-size: 14px; font-family: 'DejaVu Sans', 'Liberation Sans', sans-serif; text-anchor: end" x="493.142857" y="623.576049" transform="rotate(-0 493.142857 623.576049)">0</text>
     </g>
    </g>
    <g id="ytick_43">
     <g id="line2d_136">
      <g>
       <path d="M 0 0 L -3.5 0 " transform="translate(500.142857 584.539286)" style="stroke: #000000; stroke-width: 0.8; stroke: #000000; stroke-width: 0.8"/>
      </g>
     </g>
     <g id="text_89">
      <text style="font-size: 14px; font-family: 'DejaVu Sans', 'Liberation Sans', sans-serif; text-anchor: end" x="493.142857" y="589.858192" transform="rotate(-0 493.142857 589.858192)">100</text>
     </g>
    </g>
    <g id="ytick_44">
     <g id="line2d_137">
      <g>
       <path d="M 0 0 L -3.5 0 " transform="translate(500.142857 550.821429)" style="stroke: #000000; stroke-width: 0.8; stroke: #000000; stroke-width: 0.8"/>
      </g>
     </g>
     <g id="text_90">
      <text style="font-size: 14px; font-family: 'DejaVu Sans', 'Liberation Sans', sans-serif; text-anchor: end" x="493.142857" y="556.140335" transform="rotate(-0 493.142857 556.140335)">200</text>
     </g>
    </g>
    <g id="ytick_45">
     <g id="line2d_138">
      <g>
       <path d="M 0 0 L -3.5 0 " transform="translate(500.142857 517.103571)" style="stroke: #000000; stroke-width: 0.8; stroke: #000000; stroke-width: 0.8"/>
      </g>
     </g>
     <g id="text_91">
      <text style="font-size: 14px; font-family: 'DejaVu Sans', 'Liberation Sans', sans-serif; text-anchor: end" x="493.142857" y="522.422478" transform="rotate(-0 493.142857 522.422478)">300</text>
     </g>
    </g>
    <g id="ytick_46">
     <g id="line2d_139">
      <g>
       <path d="M 0 0 L -3.5 0 " transform="translate(500.142857 483.385714)" style="stroke: #000000; stroke-width: 0.8; stroke: #000000; stroke-width: 0.8"/>
      </g>
     </g>
     <g id="text_92">
      <text style="font-size: 14px; font-family: 'DejaVu Sans', 'Liberation Sans', sans-serif; text-anchor: end" x="493.142857" y="488.704621" transform="rotate(-0 493.142857 488.704621)">400</text>
     </g>
    </g>
   </g>
   <g id="LineCollection_61">
    <path d="M 508.4474 617.957143 L 508.4474 617.957143 " clip-path="url(#p45d22df9d8)" style="fill: none; stroke: #1500ff; stroke-width: 1.5"/>
   </g>
   <g id="LineCollection_62">
    <path d="M 532.174674 617.957143 L 532.174674 617.957143 " clip-path="url(#p45d22df9d8)" style="fill: none; stroke: #eba42b; stroke-width: 1.5"/>
   </g>
   <g id="LineCollection_63">
    <path d="M 579.62922 617.657143 L 579.62922 617.657143 " clip-path="url(#p45d22df9d8)" style="fill: none; stroke: #1500ff; stroke-width: 1.5"/>
   </g>
   <g id="LineCollection_64">
    <path d="M 603.356494 600.342857 L 603.356494 480.214286 " clip-path="url(#p45d22df9d8)" style="fill: none; stroke: #eba42b; stroke-width: 1.5"/>
   </g>
   <g id="LineCollection_65">
    <path d="M 650.811041 613.2 L 650.811041 608.742857 " clip-path="url(#p45d22df9d8)" style="fill: none; stroke: #1500ff; stroke-width: 1.5"/>
   </g>
   <g id="LineCollection_66">
    <path d="M 674.538314 610.071429 L 674.538314 544.542857 " clip-path="url(#p45d22df9d8)" style="fill: none; stroke: #eba42b; stroke-width: 1.5"/>
   </g>
   <g id="line2d_140">
    <g clip-path="url(#p45d22df9d8)">
     <path d="M 0 3 C 0.795609 3 1.55874 2.683901 2.12132 2.12132 C 2.683901 1.55874 3 0.795609 3 0 C 3 -0.795609 2.683901 -1.55874 2.12132 -2.12132 C 1.55874 -2.683901 0.795609 -3 0 -3 C -0.795609 -3 -1.55874 -2.683901 -2.12132 -2.12132 C -2.683901 -1.55874 -3 -0.795609 -3 0 C -3 0.795609 -2.683901 1.55874 -2.12132 2.12132 C -1.55874 2.683901 -0.795609 3 0 3 z
" transform="translate(508.4474 617.957143)" style="fill: #1500ff; stroke: #1500ff; stroke: #1500ff"/>
    </g>
   </g>
   <g id="line2d_141">
    <g clip-path="url(#p45d22df9d8)">
     <path d="M 0 3 C 0.795609 3 1.55874 2.683901 2.12132 2.12132 C 2.683901 1.55874 3 0.795609 3 0 C 3 -0.795609 2.683901 -1.55874 2.12132 -2.12132 C 1.55874 -2.683901 0.795609 -3 0 -3 C -0.795609 -3 -1.55874 -2.683901 -2.12132 -2.12132 C -2.683901 -1.55874 -3 -0.795609 -3 0 C -3 0.795609 -2.683901 1.55874 -2.12132 2.12132 C -1.55874 2.683901 -0.795609 3 0 3 z
" transform="translate(532.174674 617.957143)" style="fill: #eba42b; stroke: #eba42b; stroke: #eba42b"/>
    </g>
   </g>
   <g id="line2d_142">
    <g clip-path="url(#p45d22df9d8)">
     <path d="M -3 3 L 3 3 L 3 -3 L -3 -3 z
" transform="translate(579.62922 617.657143)" style="fill: #1500ff; stroke: #1500ff; stroke-linejoin: miter; stroke: #1500ff; stroke-linejoin: miter"/>
    </g>
   </g>
   <g id="line2d_143">
    <g clip-path="url(#p45d22df9d8)">
     <path d="M -3 3 L 3 3 L 3 -3 L -3 -3 z
" transform="translate(603.356494 531.385714)" style="fill: #eba42b; stroke: #eba42b; stroke-linejoin: miter; stroke: #eba42b; stroke-linejoin: miter"/>
    </g>
   </g>
   <g id="line2d_144">
    <g clip-path="url(#p45d22df9d8)">
     <path d="M -3 3 L 3 -3 M -3 -3 L 3 3 " transform="translate(650.811041 613.2)" style="fill: #1500ff; stroke: #1500ff; stroke: #1500ff"/>
    </g>
   </g>
   <g id="line2d_145">
    <g clip-path="url(#p45d22df9d8)">
     <path d="M -3 3 L 3 -3 M -3 -3 L 3 3 " transform="translate(674.538314 592.285714)" style="fill: #eba42b; stroke: #eba42b; stroke: #eba42b"/>
    </g>
   </g>
   <g id="patch_53">
    <path d="M 500.142857 624.998571 L 500.142857 473.177143 " style="fill: none; stroke: #000000; stroke-width: 0.8; stroke-linejoin: miter; stroke-linecap: square"/>
   </g>
   <g id="patch_54">
    <path d="M 682.842857 624.998571 L 682.842857 473.177143 " style="fill: none; stroke: #000000; stroke-width: 0.8; stroke-linejoin: miter; stroke-linecap: square"/>
   </g>
   <g id="patch_55">
    <path d="M 500.142857 624.998571 L 682.842857 624.998571 " style="fill: none; stroke: #000000; stroke-width: 0.8; stroke-linejoin: miter; stroke-linecap: square"/>
   </g>
   <g id="patch_56">
    <path d="M 500.142857 473.177143 L 682.842857 473.177143 " style="fill: none; stroke: #000000; stroke-width: 0.8; stroke-linejoin: miter; stroke-linecap: square"/>
   </g>
   <g id="text_93">
    <text style="font-size: 14.1px; font-family: 'DejaVu Sans', 'Liberation Sans', sans-serif; text-anchor: middle" x="591.492857" y="467.177143" transform="rotate(-0 591.492857 467.177143)">Frugivorous birds</text>
   </g>
  </g>
  <g id="axes_12">
   <g id="patch_57">
    <path d="M 719.421429 624.998571 L 902.121429 624.998571 L 902.121429 473.177143 L 719.421429 473.177143 z
" style="fill: #ffffff"/>
   </g>
   <g id="matplotlib.axis_23">
    <g id="xtick_34">
     <g id="line2d_146">
      <g>
       <path d="M 0 0 L 0 3.5 " transform="translate(739.589609 624.998571)" style="stroke: #000000; stroke-width: 0.8; stroke: #000000; stroke-width: 0.8"/>
      </g>
     </g>
     <g id="text_94">
      <text style="font-size: 14px; font-family: 'DejaVu Sans', 'Liberation Sans', sans-serif" transform="translate(700.502548 642.273909) rotate(-345)">Abundance</text>
     </g>
    </g>
    <g id="xtick_35">
     <g id="line2d_147">
      <g>
       <path d="M 0 0 L 0 3.5 " transform="translate(810.771429 624.998571)" style="stroke: #000000; stroke-width: 0.8; stroke: #000000; stroke-width: 0.8"/>
      </g>
     </g>
     <g id="text_95">
      <text style="font-size: 14px; font-family: 'DejaVu Sans', 'Liberation Sans', sans-serif" transform="translate(779.691441 642.273909) rotate(-345)">Diversity</text>
     </g>
    </g>
    <g id="xtick_36">
     <g id="line2d_148">
      <g>
       <path d="M 0 0 L 0 3.5 " transform="translate(881.953249 624.998571)" style="stroke: #000000; stroke-width: 0.8; stroke: #000000; stroke-width: 0.8"/>
      </g>
     </g>
     <g id="text_96">
      <text style="font-size: 14px; font-family: 'DejaVu Sans', 'Liberation Sans', sans-serif" transform="translate(838.726894 642.273909) rotate(-345)">Composition</text>
     </g>
    </g>
   </g>
   <g id="matplotlib.axis_24">
    <g id="ytick_47">
     <g id="line2d_149">
      <g>
       <path d="M 0 0 L -3.5 0 " transform="translate(719.421429 618.257143)" style="stroke: #000000; stroke-width: 0.8; stroke: #000000; stroke-width: 0.8"/>
      </g>
     </g>
     <g id="text_97">
      <text style="font-size: 14px; font-family: 'DejaVu Sans', 'Liberation Sans', sans-serif; text-anchor: end" x="712.421429" y="623.576049" transform="rotate(-0 712.421429 623.576049)">0</text>
     </g>
    </g>
    <g id="ytick_48">
     <g id="line2d_150">
      <g>
       <path d="M 0 0 L -3.5 0 " transform="translate(719.421429 574.028571)" style="stroke: #000000; stroke-width: 0.8; stroke: #000000; stroke-width: 0.8"/>
      </g>
     </g>
     <g id="text_98">
      <text style="font-size: 14px; font-family: 'DejaVu Sans', 'Liberation Sans', sans-serif; text-anchor: end" x="712.421429" y="579.347478" transform="rotate(-0 712.421429 579.347478)">20</text>
     </g>
    </g>
    <g id="ytick_49">
     <g id="line2d_151">
      <g>
       <path d="M 0 0 L -3.5 0 " transform="translate(719.421429 529.8)" style="stroke: #000000; stroke-width: 0.8; stroke: #000000; stroke-width: 0.8"/>
      </g>
     </g>
     <g id="text_99">
      <text style="font-size: 14px; font-family: 'DejaVu Sans', 'Liberation Sans', sans-serif; text-anchor: end" x="712.421429" y="535.118906" transform="rotate(-0 712.421429 535.118906)">40</text>
     </g>
    </g>
    <g id="ytick_50">
     <g id="line2d_152">
      <g>
       <path d="M 0 0 L -3.5 0 " transform="translate(719.421429 485.571429)" style="stroke: #000000; stroke-width: 0.8; stroke: #000000; stroke-width: 0.8"/>
      </g>
     </g>
     <g id="text_100">
      <text style="font-size: 14px; font-family: 'DejaVu Sans', 'Liberation Sans', sans-serif; text-anchor: end" x="712.421429" y="490.890335" transform="rotate(-0 712.421429 490.890335)">60</text>
     </g>
    </g>
   </g>
   <g id="LineCollection_67">
    <path d="M 727.725972 615.385714 L 727.725972 615.385714 " clip-path="url(#pb5f06f5022)" style="fill: none; stroke: #1500ff; stroke-width: 1.5"/>
   </g>
   <g id="LineCollection_68">
    <path d="M 751.453245 610.628571 L 751.453245 610.628571 " clip-path="url(#pb5f06f5022)" style="fill: none; stroke: #eba42b; stroke-width: 1.5"/>
   </g>
   <g id="LineCollection_69">
    <path d="M 798.907792 617.957143 L 798.907792 617.957143 " clip-path="url(#pb5f06f5022)" style="fill: none; stroke: #1500ff; stroke-width: 1.5"/>
   </g>
   <g id="LineCollection_70">
    <path d="M 822.635065 524.742857 L 822.635065 480.214286 " clip-path="url(#pb5f06f5022)" style="fill: none; stroke: #eba42b; stroke-width: 1.5"/>
   </g>
   <g id="LineCollection_71">
    <path d="M 870.089612 604.157143 L 870.089612 604.157143 " clip-path="url(#pb5f06f5022)" style="fill: none; stroke: #1500ff; stroke-width: 1.5"/>
   </g>
   <g id="LineCollection_72">
    <path d="M 893.816885 580.842857 L 893.816885 574.671429 " clip-path="url(#pb5f06f5022)" style="fill: none; stroke: #eba42b; stroke-width: 1.5"/>
   </g>
   <g id="line2d_153">
    <g clip-path="url(#pb5f06f5022)">
     <path d="M 0 3 C 0.795609 3 1.55874 2.683901 2.12132 2.12132 C 2.683901 1.55874 3 0.795609 3 0 C 3 -0.795609 2.683901 -1.55874 2.12132 -2.12132 C 1.55874 -2.683901 0.795609 -3 0 -3 C -0.795609 -3 -1.55874 -2.683901 -2.12132 -2.12132 C -2.683901 -1.55874 -3 -0.795609 -3 0 C -3 0.795609 -2.683901 1.55874 -2.12132 2.12132 C -1.55874 2.683901 -0.795609 3 0 3 z
" transform="translate(727.725972 615.385714)" style="fill: #1500ff; stroke: #1500ff; stroke: #1500ff"/>
    </g>
   </g>
   <g id="line2d_154">
    <g clip-path="url(#pb5f06f5022)">
     <path d="M 0 3 C 0.795609 3 1.55874 2.683901 2.12132 2.12132 C 2.683901 1.55874 3 0.795609 3 0 C 3 -0.795609 2.683901 -1.55874 2.12132 -2.12132 C 1.55874 -2.683901 0.795609 -3 0 -3 C -0.795609 -3 -1.55874 -2.683901 -2.12132 -2.12132 C -2.683901 -1.55874 -3 -0.795609 -3 0 C -3 0.795609 -2.683901 1.55874 -2.12132 2.12132 C -1.55874 2.683901 -0.795609 3 0 3 z
" transform="translate(751.453245 610.628571)" style="fill: #eba42b; stroke: #eba42b; stroke: #eba42b"/>
    </g>
   </g>
   <g id="line2d_155">
    <g clip-path="url(#pb5f06f5022)">
     <path d="M -3 3 L 3 3 L 3 -3 L -3 -3 z
" transform="translate(798.907792 617.957143)" style="fill: #1500ff; stroke: #1500ff; stroke-linejoin: miter; stroke: #1500ff; stroke-linejoin: miter"/>
    </g>
   </g>
   <g id="line2d_156">
    <g clip-path="url(#pb5f06f5022)">
     <path d="M -3 3 L 3 3 L 3 -3 L -3 -3 z
" transform="translate(822.635065 508.371429)" style="fill: #eba42b; stroke: #eba42b; stroke-linejoin: miter; stroke: #eba42b; stroke-linejoin: miter"/>
    </g>
   </g>
   <g id="line2d_157">
    <g clip-path="url(#pb5f06f5022)">
     <path d="M -3 3 L 3 -3 M -3 -3 L 3 3 " transform="translate(870.089612 604.157143)" style="fill: #1500ff; stroke: #1500ff; stroke: #1500ff"/>
    </g>
   </g>
   <g id="line2d_158">
    <g clip-path="url(#pb5f06f5022)">
     <path d="M -3 3 L 3 -3 M -3 -3 L 3 3 " transform="translate(893.816885 578.014286)" style="fill: #eba42b; stroke: #eba42b; stroke: #eba42b"/>
    </g>
   </g>
   <g id="patch_58">
    <path d="M 719.421429 624.998571 L 719.421429 473.177143 " style="fill: none; stroke: #000000; stroke-width: 0.8; stroke-linejoin: miter; stroke-linecap: square"/>
   </g>
   <g id="patch_59">
    <path d="M 902.121429 624.998571 L 902.121429 473.177143 " style="fill: none; stroke: #000000; stroke-width: 0.8; stroke-linejoin: miter; stroke-linecap: square"/>
   </g>
   <g id="patch_60">
    <path d="M 719.421429 624.998571 L 902.121429 624.998571 " style="fill: none; stroke: #000000; stroke-width: 0.8; stroke-linejoin: miter; stroke-linecap: square"/>
   </g>
   <g id="patch_61">
    <path d="M 719.421429 473.177143 L 902.121429 473.177143 " style="fill: none; stroke: #000000; stroke-width: 0.8; stroke-linejoin: miter; stroke-linecap: square"/>
   </g>
   <g id="text_101">
    <text style="font-size: 14.1px; font-family: 'DejaVu Sans', 'Liberation Sans', sans-serif; text-anchor: middle" x="810.771429" y="467.177143" transform="rotate(-0 810.771429 467.177143)">Bats</text>
   </g>
  </g>
  <g id="axes_13">
   <g id="patch_62">
    <path d="M 61.585714 852.784286 L 244.285714 852.784286 L 244.285714 700.962857 L 61.585714 700.962857 z
" style="fill: #ffffff"/>
   </g>
   <g id="matplotlib.axis_25">
    <g id="xtick_37">
     <g id="line2d_159">
      <g>
       <path d="M 0 0 L 0 3.5 " transform="translate(81.753894 852.784286)" style="stroke: #000000; stroke-width: 0.8; stroke: #000000; stroke-width: 0.8"/>
      </g>
     </g>
     <g id="text_102">
      <text style="font-size: 14px; font-family: 'DejaVu Sans', 'Liberation Sans', sans-serif" transform="translate(42.666834 870.059624) rotate(-345)">Abundance</text>
     </g>
    </g>
    <g id="xtick_38">
     <g id="line2d_160">
      <g>
       <path d="M 0 0 L 0 3.5 " transform="translate(152.935714 852.784286)" style="stroke: #000000; stroke-width: 0.8; stroke: #000000; stroke-width: 0.8"/>
      </g>
     </g>
     <g id="text_103">
      <text style="font-size: 14px; font-family: 'DejaVu Sans', 'Liberation Sans', sans-serif" transform="translate(121.855726 870.059624) rotate(-345)">Diversity</text>
     </g>
    </g>
    <g id="xtick_39">
     <g id="line2d_161">
      <g>
       <path d="M 0 0 L 0 3.5 " transform="translate(224.117534 852.784286)" style="stroke: #000000; stroke-width: 0.8; stroke: #000000; stroke-width: 0.8"/>
      </g>
     </g>
     <g id="text_104">
      <text style="font-size: 14px; font-family: 'DejaVu Sans', 'Liberation Sans', sans-serif" transform="translate(180.89118 870.059624) rotate(-345)">Composition</text>
     </g>
    </g>
   </g>
   <g id="matplotlib.axis_26">
    <g id="ytick_51">
     <g id="line2d_162">
      <g>
       <path d="M 0 0 L -3.5 0 " transform="translate(61.585714 845.957143)" style="stroke: #000000; stroke-width: 0.8; stroke: #000000; stroke-width: 0.8"/>
      </g>
     </g>
     <g id="text_105">
      <text style="font-size: 14px; font-family: 'DejaVu Sans', 'Liberation Sans', sans-serif; text-anchor: end" x="54.585714" y="851.276049" transform="rotate(-0 54.585714 851.276049)">0</text>
     </g>
    </g>
    <g id="ytick_52">
     <g id="line2d_163">
      <g>
       <path d="M 0 0 L -3.5 0 " transform="translate(61.585714 786.642857)" style="stroke: #000000; stroke-width: 0.8; stroke: #000000; stroke-width: 0.8"/>
      </g>
     </g>
     <g id="text_106">
      <text style="font-size: 14px; font-family: 'DejaVu Sans', 'Liberation Sans', sans-serif; text-anchor: end" x="54.585714" y="791.961763" transform="rotate(-0 54.585714 791.961763)">500</text>
     </g>
    </g>
    <g id="ytick_53">
     <g id="line2d_164">
      <g>
       <path d="M 0 0 L -3.5 0 " transform="translate(61.585714 727.328571)" style="stroke: #000000; stroke-width: 0.8; stroke: #000000; stroke-width: 0.8"/>
      </g>
     </g>
     <g id="text_107">
      <text style="font-size: 14px; font-family: 'DejaVu Sans', 'Liberation Sans', sans-serif; text-anchor: end" x="54.585714" y="732.647478" transform="rotate(-0 54.585714 732.647478)">1000</text>
     </g>
    </g>
    <g id="text_108">
     <text style="font-size: 14px; font-family: 'DejaVu Sans', 'Liberation Sans', sans-serif; text-anchor: middle" x="12.044152" y="776.873571" transform="rotate(-90 12.044152 776.873571)">Recovery time [years]</text>
    </g>
   </g>
   <g id="LineCollection_73">
    <path d="M 69.890258 845.785714 L 69.890258 845.785714 " clip-path="url(#p0baa1a7957)" style="fill: none; stroke: #1500ff; stroke-width: 1.5"/>
   </g>
   <g id="LineCollection_74">
    <path d="M 93.617531 831.385714 L 93.617531 813.6 " clip-path="url(#p0baa1a7957)" style="fill: none; stroke: #eba42b; stroke-width: 1.5"/>
   </g>
   <g id="LineCollection_75">
    <path d="M 141.072078 843.3 L 141.072078 843.3 " clip-path="url(#p0baa1a7957)" style="fill: none; stroke: #1500ff; stroke-width: 1.5"/>
   </g>
   <g id="LineCollection_76">
    <path d="M 164.799351 838.157143 L 164.799351 833.571429 " clip-path="url(#p0baa1a7957)" style="fill: none; stroke: #eba42b; stroke-width: 1.5"/>
   </g>
   <g id="LineCollection_77">
    <path d="M 212.253898 840.042857 L 212.253898 838.071429 " clip-path="url(#p0baa1a7957)" style="fill: none; stroke: #1500ff; stroke-width: 1.5"/>
   </g>
   <g id="LineCollection_78">
    <path d="M 235.981171 825.042857 L 235.981171 708.042857 " clip-path="url(#p0baa1a7957)" style="fill: none; stroke: #eba42b; stroke-width: 1.5"/>
   </g>
   <g id="line2d_165">
    <g clip-path="url(#p0baa1a7957)">
     <path d="M 0 3 C 0.795609 3 1.55874 2.683901 2.12132 2.12132 C 2.683901 1.55874 3 0.795609 3 0 C 3 -0.795609 2.683901 -1.55874 2.12132 -2.12132 C 1.55874 -2.683901 0.795609 -3 0 -3 C -0.795609 -3 -1.55874 -2.683901 -2.12132 -2.12132 C -2.683901 -1.55874 -3 -0.795609 -3 0 C -3 0.795609 -2.683901 1.55874 -2.12132 2.12132 C -1.55874 2.683901 -0.795609 3 0 3 z
" transform="translate(69.890258 845.785714)" style="fill: #1500ff; stroke: #1500ff; stroke: #1500ff"/>
    </g>
   </g>
   <g id="line2d_166">
    <g clip-path="url(#p0baa1a7957)">
     <path d="M 0 3 C 0.795609 3 1.55874 2.683901 2.12132 2.12132 C 2.683901 1.55874 3 0.795609 3 0 C 3 -0.795609 2.683901 -1.55874 2.12132 -2.12132 C 1.55874 -2.683901 0.795609 -3 0 -3 C -0.795609 -3 -1.55874 -2.683901 -2.12132 -2.12132 C -2.683901 -1.55874 -3 -0.795609 -3 0 C -3 0.795609 -2.683901 1.55874 -2.12132 2.12132 C -1.55874 2.683901 -0.795609 3 0 3 z
" transform="translate(93.617531 825.685714)" style="fill: #eba42b; stroke: #eba42b; stroke: #eba42b"/>
    </g>
   </g>
   <g id="line2d_167">
    <g clip-path="url(#p0baa1a7957)">
     <path d="M -3 3 L 3 3 L 3 -3 L -3 -3 z
" transform="translate(141.072078 843.3)" style="fill: #1500ff; stroke: #1500ff; stroke-linejoin: miter; stroke: #1500ff; stroke-linejoin: miter"/>
    </g>
   </g>
   <g id="line2d_168">
    <g clip-path="url(#p0baa1a7957)">
     <path d="M -3 3 L 3 3 L 3 -3 L -3 -3 z
" transform="translate(164.799351 838.157143)" style="fill: #eba42b; stroke: #eba42b; stroke-linejoin: miter; stroke: #eba42b; stroke-linejoin: miter"/>
    </g>
   </g>
   <g id="line2d_169">
    <g clip-path="url(#p0baa1a7957)">
     <path d="M -3 3 L 3 -3 M -3 -3 L 3 3 " transform="translate(212.253898 840.042857)" style="fill: #1500ff; stroke: #1500ff; stroke: #1500ff"/>
    </g>
   </g>
   <g id="line2d_170">
    <g clip-path="url(#p0baa1a7957)">
     <path d="M -3 3 L 3 -3 M -3 -3 L 3 3 " transform="translate(235.981171 810.942857)" style="fill: #eba42b; stroke: #eba42b; stroke: #eba42b"/>
    </g>
   </g>
   <g id="patch_63">
    <path d="M 61.585714 852.784286 L 61.585714 700.962857 " style="fill: none; stroke: #000000; stroke-width: 0.8; stroke-linejoin: miter; stroke-linecap: square"/>
   </g>
   <g id="patch_64">
    <path d="M 244.285714 852.784286 L 244.285714 700.962857 " style="fill: none; stroke: #000000; stroke-width: 0.8; stroke-linejoin: miter; stroke-linecap: square"/>
   </g>
   <g id="patch_65">
    <path d="M 61.585714 852.784286 L 244.285714 852.784286 " style="fill: none; stroke: #000000; stroke-width: 0.8; stroke-linejoin: miter; stroke-linecap: square"/>
   </g>
   <g id="patch_66">
    <path d="M 61.585714 700.962857 L 244.285714 700.962857 " style="fill: none; stroke: #000000; stroke-width: 0.8; stroke-linejoin: miter; stroke-linecap: square"/>
   </g>
   <g id="text_109">
    <text style="font-size: 14.1px; font-family: 'DejaVu Sans', 'Liberation Sans', sans-serif; text-anchor: middle" x="152.935714" y="694.962857" transform="rotate(-0 152.935714 694.962857)">Ground mammals</text>
   </g>
  </g>
  <g id="axes_14">
   <g id="patch_67">
    <path d="M 280.864286 852.784286 L 463.564286 852.784286 L 463.564286 700.962857 L 280.864286 700.962857 z
" style="fill: #ffffff"/>
   </g>
   <g id="matplotlib.axis_27">
    <g id="xtick_40">
     <g id="line2d_171">
      <g>
       <path d="M 0 0 L 0 3.5 " transform="translate(301.032466 852.784286)" style="stroke: #000000; stroke-width: 0.8; stroke: #000000; stroke-width: 0.8"/>
      </g>
     </g>
     <g id="text_110">
      <text style="font-size: 14px; font-family: 'DejaVu Sans', 'Liberation Sans', sans-serif" transform="translate(261.945405 870.059624) rotate(-345)">Abundance</text>
     </g>
    </g>
    <g id="xtick_41">
     <g id="line2d_172">
      <g>
       <path d="M 0 0 L 0 3.5 " transform="translate(372.214286 852.784286)" style="stroke: #000000; stroke-width: 0.8; stroke: #000000; stroke-width: 0.8"/>
      </g>
     </g>
     <g id="text_111">
      <text style="font-size: 14px; font-family: 'DejaVu Sans', 'Liberation Sans', sans-serif" transform="translate(341.134298 870.059624) rotate(-345)">Diversity</text>
     </g>
    </g>
    <g id="xtick_42">
     <g id="line2d_173">
      <g>
       <path d="M 0 0 L 0 3.5 " transform="translate(443.396106 852.784286)" style="stroke: #000000; stroke-width: 0.8; stroke: #000000; stroke-width: 0.8"/>
      </g>
     </g>
     <g id="text_112">
      <text style="font-size: 14px; font-family: 'DejaVu Sans', 'Liberation Sans', sans-serif" transform="translate(400.169751 870.059624) rotate(-345)">Composition</text>
     </g>
    </g>
   </g>
   <g id="matplotlib.axis_28">
    <g id="ytick_54">
     <g id="line2d_174">
      <g>
       <path d="M 0 0 L -3.5 0 " transform="translate(280.864286 844.242857)" style="stroke: #000000; stroke-width: 0.8; stroke: #000000; stroke-width: 0.8"/>
      </g>
     </g>
     <g id="text_113">
      <text style="font-size: 14px; font-family: 'DejaVu Sans', 'Liberation Sans', sans-serif; text-anchor: end" x="273.864286" y="849.561763" transform="rotate(-0 273.864286 849.561763)">50</text>
     </g>
    </g>
    <g id="ytick_55">
     <g id="line2d_175">
      <g>
       <path d="M 0 0 L -3.5 0 " transform="translate(280.864286 799.414286)" style="stroke: #000000; stroke-width: 0.8; stroke: #000000; stroke-width: 0.8"/>
      </g>
     </g>
     <g id="text_114">
      <text style="font-size: 14px; font-family: 'DejaVu Sans', 'Liberation Sans', sans-serif; text-anchor: end" x="273.864286" y="804.733192" transform="rotate(-0 273.864286 804.733192)">100</text>
     </g>
    </g>
    <g id="ytick_56">
     <g id="line2d_176">
      <g>
       <path d="M 0 0 L -3.5 0 " transform="translate(280.864286 754.585714)" style="stroke: #000000; stroke-width: 0.8; stroke: #000000; stroke-width: 0.8"/>
      </g>
     </g>
     <g id="text_115">
      <text style="font-size: 14px; font-family: 'DejaVu Sans', 'Liberation Sans', sans-serif; text-anchor: end" x="273.864286" y="759.904621" transform="rotate(-0 273.864286 759.904621)">150</text>
     </g>
    </g>
    <g id="ytick_57">
     <g id="line2d_177">
      <g>
       <path d="M 0 0 L -3.5 0 " transform="translate(280.864286 709.757143)" style="stroke: #000000; stroke-width: 0.8; stroke: #000000; stroke-width: 0.8"/>
      </g>
     </g>
     <g id="text_116">
      <text style="font-size: 14px; font-family: 'DejaVu Sans', 'Liberation Sans', sans-serif; text-anchor: end" x="273.864286" y="715.076049" transform="rotate(-0 273.864286 715.076049)">200</text>
     </g>
    </g>
   </g>
   <g id="LineCollection_79">
    <path d="M 289.168829 828.557143 L 289.168829 761.785714 " clip-path="url(#peebd626685)" style="fill: none; stroke: #1500ff; stroke-width: 1.5"/>
   </g>
   <g id="LineCollection_80">
    <path d="M 312.896102 829.114286 L 312.896102 800.571429 " clip-path="url(#peebd626685)" style="fill: none; stroke: #eba42b; stroke-width: 1.5"/>
   </g>
   <g id="LineCollection_81">
    <path d="M 360.350649 816.642857 L 360.350649 784.114286 " clip-path="url(#peebd626685)" style="fill: none; stroke: #1500ff; stroke-width: 1.5"/>
   </g>
   <g id="LineCollection_82">
    <path d="M 384.077922 842.142857 L 384.077922 814.757143 " clip-path="url(#peebd626685)" style="fill: none; stroke: #eba42b; stroke-width: 1.5"/>
   </g>
   <g id="LineCollection_83">
    <path d="M 431.532469 845.785714 L 431.532469 828.857143 " clip-path="url(#peebd626685)" style="fill: none; stroke: #1500ff; stroke-width: 1.5"/>
   </g>
   <g id="LineCollection_84">
    <path d="M 455.259742 773.871429 L 455.259742 708.042857 " clip-path="url(#peebd626685)" style="fill: none; stroke: #eba42b; stroke-width: 1.5"/>
   </g>
   <g id="line2d_178">
    <g clip-path="url(#peebd626685)">
     <path d="M 0 3 C 0.795609 3 1.55874 2.683901 2.12132 2.12132 C 2.683901 1.55874 3 0.795609 3 0 C 3 -0.795609 2.683901 -1.55874 2.12132 -2.12132 C 1.55874 -2.683901 0.795609 -3 0 -3 C -0.795609 -3 -1.55874 -2.683901 -2.12132 -2.12132 C -2.683901 -1.55874 -3 -0.795609 -3 0 C -3 0.795609 -2.683901 1.55874 -2.12132 2.12132 C -1.55874 2.683901 -0.795609 3 0 3 z
" transform="translate(289.168829 808.371429)" style="fill: #1500ff; stroke: #1500ff; stroke: #1500ff"/>
    </g>
   </g>
   <g id="line2d_179">
    <g clip-path="url(#peebd626685)">
     <path d="M 0 3 C 0.795609 3 1.55874 2.683901 2.12132 2.12132 C 2.683901 1.55874 3 0.795609 3 0 C 3 -0.795609 2.683901 -1.55874 2.12132 -2.12132 C 1.55874 -2.683901 0.795609 -3 0 -3 C -0.795609 -3 -1.55874 -2.683901 -2.12132 -2.12132 C -2.683901 -1.55874 -3 -0.795609 -3 0 C -3 0.795609 -2.683901 1.55874 -2.12132 2.12132 C -1.55874 2.683901 -0.795609 3 0 3 z
" transform="translate(312.896102 817.885714)" style="fill: #eba42b; stroke: #eba42b; stroke: #eba42b"/>
    </g>
   </g>
   <g id="line2d_180">
    <g clip-path="url(#peebd626685)">
     <path d="M -3 3 L 3 3 L 3 -3 L -3 -3 z
" transform="translate(360.350649 800.314286)" style="fill: #1500ff; stroke: #1500ff; stroke-linejoin: miter; stroke: #1500ff; stroke-linejoin: miter"/>
    </g>
   </g>
   <g id="line2d_181">
    <g clip-path="url(#peebd626685)">
     <path d="M -3 3 L 3 3 L 3 -3 L -3 -3 z
" transform="translate(384.077922 833.314286)" style="fill: #eba42b; stroke: #eba42b; stroke-linejoin: miter; stroke: #eba42b; stroke-linejoin: miter"/>
    </g>
   </g>
   <g id="line2d_182">
    <g clip-path="url(#peebd626685)">
     <path d="M -3 3 L 3 -3 M -3 -3 L 3 3 " transform="translate(431.532469 837.685714)" style="fill: #1500ff; stroke: #1500ff; stroke: #1500ff"/>
    </g>
   </g>
   <g id="line2d_183">
    <g clip-path="url(#peebd626685)">
     <path d="M -3 3 L 3 -3 M -3 -3 L 3 3 " transform="translate(455.259742 753.428571)" style="fill: #eba42b; stroke: #eba42b; stroke: #eba42b"/>
    </g>
   </g>
   <g id="patch_68">
    <path d="M 280.864286 852.784286 L 280.864286 700.962857 " style="fill: none; stroke: #000000; stroke-width: 0.8; stroke-linejoin: miter; stroke-linecap: square"/>
   </g>
   <g id="patch_69">
    <path d="M 463.564286 852.784286 L 463.564286 700.962857 " style="fill: none; stroke: #000000; stroke-width: 0.8; stroke-linejoin: miter; stroke-linecap: square"/>
   </g>
   <g id="patch_70">
    <path d="M 280.864286 852.784286 L 463.564286 852.784286 " style="fill: none; stroke: #000000; stroke-width: 0.8; stroke-linejoin: miter; stroke-linecap: square"/>
   </g>
   <g id="patch_71">
    <path d="M 280.864286 700.962857 L 463.564286 700.962857 " style="fill: none; stroke: #000000; stroke-width: 0.8; stroke-linejoin: miter; stroke-linecap: square"/>
   </g>
   <g id="text_117">
    <text style="font-size: 14.1px; font-family: 'DejaVu Sans', 'Liberation Sans', sans-serif; text-anchor: middle" x="372.214286" y="694.962857" transform="rotate(-0 372.214286 694.962857)">Seedlings</text>
   </g>
  </g>
  <g id="axes_15">
   <g id="patch_72">
    <path d="M 500.142857 852.784286 L 682.842857 852.784286 L 682.842857 700.962857 L 500.142857 700.962857 z
" style="fill: #ffffff"/>
   </g>
   <g id="matplotlib.axis_29">
    <g id="xtick_43">
     <g id="line2d_184">
      <g>
       <path d="M 0 0 L 0 3.5 " transform="translate(520.311037 852.784286)" style="stroke: #000000; stroke-width: 0.8; stroke: #000000; stroke-width: 0.8"/>
      </g>
     </g>
     <g id="text_118">
      <text style="font-size: 14px; font-family: 'DejaVu Sans', 'Liberation Sans', sans-serif" transform="translate(481.223977 870.059624) rotate(-345)">Abundance</text>
     </g>
    </g>
    <g id="xtick_44">
     <g id="line2d_185">
      <g>
       <path d="M 0 0 L 0 3.5 " transform="translate(591.492857 852.784286)" style="stroke: #000000; stroke-width: 0.8; stroke: #000000; stroke-width: 0.8"/>
      </g>
     </g>
     <g id="text_119">
      <text style="font-size: 14px; font-family: 'DejaVu Sans', 'Liberation Sans', sans-serif" transform="translate(560.412869 870.059624) rotate(-345)">Diversity</text>
     </g>
    </g>
    <g id="xtick_45">
     <g id="line2d_186">
      <g>
       <path d="M 0 0 L 0 3.5 " transform="translate(662.674677 852.784286)" style="stroke: #000000; stroke-width: 0.8; stroke: #000000; stroke-width: 0.8"/>
      </g>
     </g>
     <g id="text_120">
      <text style="font-size: 14px; font-family: 'DejaVu Sans', 'Liberation Sans', sans-serif" transform="translate(619.448323 870.059624) rotate(-345)">Composition</text>
     </g>
    </g>
   </g>
   <g id="matplotlib.axis_30">
    <g id="ytick_58">
     <g id="line2d_187">
      <g>
       <path d="M 0 0 L -3.5 0 " transform="translate(500.142857 819.042857)" style="stroke: #000000; stroke-width: 0.8; stroke: #000000; stroke-width: 0.8"/>
      </g>
     </g>
     <g id="text_121">
      <text style="font-size: 14px; font-family: 'DejaVu Sans', 'Liberation Sans', sans-serif; text-anchor: end" x="493.142857" y="824.361763" transform="rotate(-0 493.142857 824.361763)">25</text>
     </g>
    </g>
    <g id="ytick_59">
     <g id="line2d_188">
      <g>
       <path d="M 0 0 L -3.5 0 " transform="translate(500.142857 784.485714)" style="stroke: #000000; stroke-width: 0.8; stroke: #000000; stroke-width: 0.8"/>
      </g>
     </g>
     <g id="text_122">
      <text style="font-size: 14px; font-family: 'DejaVu Sans', 'Liberation Sans', sans-serif; text-anchor: end" x="493.142857" y="789.804621" transform="rotate(-0 493.142857 789.804621)">50</text>
     </g>
    </g>
    <g id="ytick_60">
     <g id="line2d_189">
      <g>
       <path d="M 0 0 L -3.5 0 " transform="translate(500.142857 749.928571)" style="stroke: #000000; stroke-width: 0.8; stroke: #000000; stroke-width: 0.8"/>
      </g>
     </g>
     <g id="text_123">
      <text style="font-size: 14px; font-family: 'DejaVu Sans', 'Liberation Sans', sans-serif; text-anchor: end" x="493.142857" y="755.247478" transform="rotate(-0 493.142857 755.247478)">75</text>
     </g>
    </g>
    <g id="ytick_61">
     <g id="line2d_190">
      <g>
       <path d="M 0 0 L -3.5 0 " transform="translate(500.142857 715.371429)" style="stroke: #000000; stroke-width: 0.8; stroke: #000000; stroke-width: 0.8"/>
      </g>
     </g>
     <g id="text_124">
      <text style="font-size: 14px; font-family: 'DejaVu Sans', 'Liberation Sans', sans-serif; text-anchor: end" x="493.142857" y="720.690335" transform="rotate(-0 493.142857 720.690335)">100</text>
     </g>
    </g>
   </g>
   <g id="LineCollection_85">
    <path d="M 508.4474 843.771429 L 508.4474 839.785714 " clip-path="url(#pb7dae6d652)" style="fill: none; stroke: #1500ff; stroke-width: 1.5"/>
   </g>
   <g id="LineCollection_86">
    <path d="M 532.174674 818.828571 L 532.174674 814.585714 " clip-path="url(#pb7dae6d652)" style="fill: none; stroke: #eba42b; stroke-width: 1.5"/>
   </g>
   <g id="LineCollection_87">
    <path d="M 579.62922 777 L 579.62922 762.257143 " clip-path="url(#pb7dae6d652)" style="fill: none; stroke: #1500ff; stroke-width: 1.5"/>
   </g>
   <g id="LineCollection_88">
    <path d="M 603.356494 785.742857 L 603.356494 779.571429 " clip-path="url(#pb7dae6d652)" style="fill: none; stroke: #eba42b; stroke-width: 1.5"/>
   </g>
   <g id="LineCollection_89">
    <path d="M 650.811041 735.6 L 650.811041 714.685714 " clip-path="url(#pb7dae6d652)" style="fill: none; stroke: #1500ff; stroke-width: 1.5"/>
   </g>
   <g id="LineCollection_90">
    <path d="M 674.538314 732.3 L 674.538314 708.042857 " clip-path="url(#pb7dae6d652)" style="fill: none; stroke: #eba42b; stroke-width: 1.5"/>
   </g>
   <g id="line2d_191">
    <g clip-path="url(#pb7dae6d652)">
     <path d="M 0 3 C 0.795609 3 1.55874 2.683901 2.12132 2.12132 C 2.683901 1.55874 3 0.795609 3 0 C 3 -0.795609 2.683901 -1.55874 2.12132 -2.12132 C 1.55874 -2.683901 0.795609 -3 0 -3 C -0.795609 -3 -1.55874 -2.683901 -2.12132 -2.12132 C -2.683901 -1.55874 -3 -0.795609 -3 0 C -3 0.795609 -2.683901 1.55874 -2.12132 2.12132 C -1.55874 2.683901 -0.795609 3 0 3 z
" transform="translate(508.4474 843.771429)" style="fill: #1500ff; stroke: #1500ff; stroke: #1500ff"/>
    </g>
   </g>
   <g id="line2d_192">
    <g clip-path="url(#pb7dae6d652)">
     <path d="M 0 3 C 0.795609 3 1.55874 2.683901 2.12132 2.12132 C 2.683901 1.55874 3 0.795609 3 0 C 3 -0.795609 2.683901 -1.55874 2.12132 -2.12132 C 1.55874 -2.683901 0.795609 -3 0 -3 C -0.795609 -3 -1.55874 -2.683901 -2.12132 -2.12132 C -2.683901 -1.55874 -3 -0.795609 -3 0 C -3 0.795609 -2.683901 1.55874 -2.12132 2.12132 C -1.55874 2.683901 -0.795609 3 0 3 z
" transform="translate(532.174674 818.828571)" style="fill: #eba42b; stroke: #eba42b; stroke: #eba42b"/>
    </g>
   </g>
   <g id="line2d_193">
    <g clip-path="url(#pb7dae6d652)">
     <path d="M -3 3 L 3 3 L 3 -3 L -3 -3 z
" transform="translate(579.62922 770.357143)" style="fill: #1500ff; stroke: #1500ff; stroke-linejoin: miter; stroke: #1500ff; stroke-linejoin: miter"/>
    </g>
   </g>
   <g id="line2d_194">
    <g clip-path="url(#pb7dae6d652)">
     <path d="M -3 3 L 3 3 L 3 -3 L -3 -3 z
" transform="translate(603.356494 785.742857)" style="fill: #eba42b; stroke: #eba42b; stroke-linejoin: miter; stroke: #eba42b; stroke-linejoin: miter"/>
    </g>
   </g>
   <g id="line2d_195">
    <g clip-path="url(#pb7dae6d652)">
     <path d="M -3 3 L 3 -3 M -3 -3 L 3 3 " transform="translate(650.811041 723.9)" style="fill: #1500ff; stroke: #1500ff; stroke: #1500ff"/>
    </g>
   </g>
   <g id="line2d_196">
    <g clip-path="url(#pb7dae6d652)">
     <path d="M -3 3 L 3 -3 M -3 -3 L 3 3 " transform="translate(674.538314 722.314286)" style="fill: #eba42b; stroke: #eba42b; stroke: #eba42b"/>
    </g>
   </g>
   <g id="patch_73">
    <path d="M 500.142857 852.784286 L 500.142857 700.962857 " style="fill: none; stroke: #000000; stroke-width: 0.8; stroke-linejoin: miter; stroke-linecap: square"/>
   </g>
   <g id="patch_74">
    <path d="M 682.842857 852.784286 L 682.842857 700.962857 " style="fill: none; stroke: #000000; stroke-width: 0.8; stroke-linejoin: miter; stroke-linecap: square"/>
   </g>
   <g id="patch_75">
    <path d="M 500.142857 852.784286 L 682.842857 852.784286 " style="fill: none; stroke: #000000; stroke-width: 0.8; stroke-linejoin: miter; stroke-linecap: square"/>
   </g>
   <g id="patch_76">
    <path d="M 500.142857 700.962857 L 682.842857 700.962857 " style="fill: none; stroke: #000000; stroke-width: 0.8; stroke-linejoin: miter; stroke-linecap: square"/>
   </g>
   <g id="text_125">
    <text style="font-size: 14.1px; font-family: 'DejaVu Sans', 'Liberation Sans', sans-serif; text-anchor: middle" x="591.492857" y="694.962857" transform="rotate(-0 591.492857 694.962857)">Trees</text>
   </g>
  </g>
  <g id="text_126">
   <text style="font-size: 10px; font-family: 'DejaVu Sans', 'Liberation Sans', sans-serif; text-anchor: middle" x="70.457143" y="128.115714" transform="rotate(-0 70.457143 128.115714)">^</text>
  </g>
  <g id="text_127">
   <text style="font-size: 10px; font-family: 'DejaVu Sans', 'Liberation Sans', sans-serif; text-anchor: middle" x="94.242857" y="157.858571" transform="rotate(-0 94.242857 157.858571)">^</text>
  </g>
  <g id="text_128">
   <text style="font-size: 10px; font-family: 'DejaVu Sans', 'Liberation Sans', sans-serif; text-anchor: middle" x="212.957143" y="38.287143" transform="rotate(-0 212.957143 38.287143)">^</text>
  </g>
  <g id="text_129">
   <text style="font-size: 10px; font-family: 'DejaVu Sans', 'Liberation Sans', sans-serif; text-anchor: middle" x="430.542857" y="140.911429" transform="rotate(-0 430.542857 140.911429)">*</text>
  </g>
  <g id="text_130">
   <text style="font-size: 10px; font-family: 'DejaVu Sans', 'Liberation Sans', sans-serif; text-anchor: middle" x="140.1" y="376.282857" transform="rotate(-0 140.1 376.282857)">*</text>
  </g>
  <g id="text_131">
   <text style="font-size: 10px; font-family: 'DejaVu Sans', 'Liberation Sans', sans-serif; text-anchor: middle" x="70.671429" y="607.044286" transform="rotate(-0 70.671429 607.044286)">^</text>
  </g>
  <g id="text_132">
   <text style="font-size: 10px; font-family: 'DejaVu Sans', 'Liberation Sans', sans-serif; text-anchor: middle" x="507.342857" y="601.497143" transform="rotate(-0 507.342857 601.497143)">*</text>
  </g>
  <g id="text_133">
   <text style="font-size: 10px; font-family: 'DejaVu Sans', 'Liberation Sans', sans-serif; text-anchor: middle" x="531.085714" y="601.497143" transform="rotate(-0 531.085714 601.497143)">*</text>
  </g>
  <g id="legend_1">
   <g id="patch_77">
    <path d="M 758.542857 783.470179 L 855.442545 783.470179 Q 858.242545 783.470179 858.242545 780.670179 L 858.242545 740.971429 Q 858.242545 738.171429 855.442545 738.171429 L 758.542857 738.171429 Q 755.742857 738.171429 755.742857 740.971429 L 755.742857 780.670179 Q 755.742857 783.470179 758.542857 783.470179 z
" style="fill: #ffffff; opacity: 0.8; stroke: #cccccc; stroke-linejoin: miter"/>
   </g>
   <g id="line2d_197">
    <path d="M 761.342857 749.509241 L 775.342857 749.509241 L 789.342857 749.509241 " style="fill: none; stroke: #1500ff; stroke-width: 1.5; stroke-linecap: square"/>
   </g>
   <g id="text_134">
    <text style="font-size: 14px; font-family: 'DejaVu Sans', 'Liberation Sans', sans-serif; text-anchor: start" x="800.542857" y="754.409241" transform="rotate(-0 800.542857 754.409241)">Cacao</text>
   </g>
   <g id="line2d_198">
    <path d="M 761.342857 770.058616 L 775.342857 770.058616 L 789.342857 770.058616 " style="fill: none; stroke: #eba42b; stroke-width: 1.5; stroke-linecap: square"/>
   </g>
   <g id="text_135">
    <text style="font-size: 14px; font-family: 'DejaVu Sans', 'Liberation Sans', sans-serif; text-anchor: start" x="800.542857" y="774.958616" transform="rotate(-0 800.542857 774.958616)">Pasture</text>
   </g>
  </g>
 </g>
 <defs>
  <clipPath id="pb2ecd4a80b">
   <rect x="61.585714" y="17.605714" width="182.7" height="151.821429"/>
  </clipPath>
  <clipPath id="p478a7007c0">
   <rect x="280.864286" y="17.605714" width="182.7" height="151.821429"/>
  </clipPath>
  <clipPath id="p5261896956">
   <rect x="500.142857" y="17.605714" width="182.7" height="151.821429"/>
  </clipPath>
  <clipPath id="pe8e57e15fb">
   <rect x="719.421429" y="17.605714" width="182.7" height="151.821429"/>
  </clipPath>
  <clipPath id="pdd3e8fbfe0">
   <rect x="61.585714" y="245.391429" width="182.7" height="151.821429"/>
  </clipPath>
  <clipPath id="p5641594929">
   <rect x="280.864286" y="245.391429" width="182.7" height="151.821429"/>
  </clipPath>
  <clipPath id="peb296dc49b">
   <rect x="500.142857" y="245.391429" width="182.7" height="151.821429"/>
  </clipPath>
  <clipPath id="pb71c8c6518">
   <rect x="719.421429" y="245.391429" width="182.7" height="151.821429"/>
  </clipPath>
  <clipPath id="p9dc0a485a8">
   <rect x="61.585714" y="473.177143" width="182.7" height="151.821429"/>
  </clipPath>
  <clipPath id="p0b99e2cb11">
   <rect x="280.864286" y="473.177143" width="182.7" height="151.821429"/>
  </clipPath>
  <clipPath id="p45d22df9d8">
   <rect x="500.142857" y="473.177143" width="182.7" height="151.821429"/>
  </clipPath>
  <clipPath id="pb5f06f5022">
   <rect x="719.421429" y="473.177143" width="182.7" height="151.821429"/>
  </clipPath>
  <clipPath id="p0baa1a7957">
   <rect x="61.585714" y="700.962857" width="182.7" height="151.821429"/>
  </clipPath>
  <clipPath id="peebd626685">
   <rect x="280.864286" y="700.962857" width="182.7" height="151.821429"/>
  </clipPath>
  <clipPath id="pb7dae6d652">
   <rect x="500.142857" y="700.962857" width="182.7" height="151.821429"/>
  </clipPath>
 </defs>
</svg>
</body></html>
